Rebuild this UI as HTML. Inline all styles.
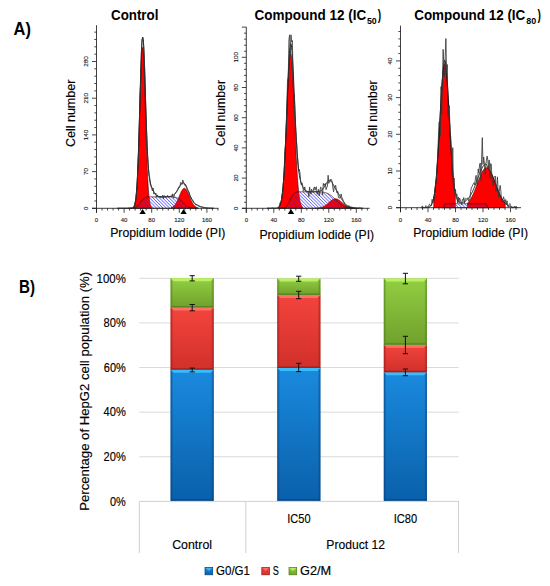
<!DOCTYPE html>
<html><head><meta charset="utf-8"><style>
html,body{margin:0;padding:0;background:#fff;}
svg{display:block;}
text{font-family:"Liberation Sans",sans-serif;}
</style></head><body>
<svg width="550" height="586" viewBox="0 0 550 586">
<defs>
<pattern id="hatch" patternUnits="userSpaceOnUse" width="2.3" height="3.4" patternTransform="rotate(-45)">
<rect x="0" y="0" width="0.8" height="3.4" fill="#6868f0"/></pattern>
<pattern id="hatchR" patternUnits="userSpaceOnUse" width="2.3" height="3.4" patternTransform="rotate(-45)">
<rect x="0" y="0" width="0.85" height="3.4" fill="#a01058"/></pattern>
</defs>
<defs><linearGradient id="vb" x1="0" y1="0" x2="0" y2="1"><stop offset="0" stop-color="#1a8ade"/><stop offset="1" stop-color="#0a60aa"/></linearGradient><linearGradient id="hb" x1="0" y1="0" x2="1" y2="0"><stop offset="0" stop-color="#053f78" stop-opacity="0.75"/><stop offset="0.06" stop-color="#053f78" stop-opacity="0"/><stop offset="0.94" stop-color="#053f78" stop-opacity="0"/><stop offset="1" stop-color="#053f78" stop-opacity="0.75"/></linearGradient><linearGradient id="vr" x1="0" y1="0" x2="0" y2="1"><stop offset="0" stop-color="#f2443c"/><stop offset="1" stop-color="#d2302b"/></linearGradient><linearGradient id="hr" x1="0" y1="0" x2="1" y2="0"><stop offset="0" stop-color="#8e1a17" stop-opacity="0.75"/><stop offset="0.06" stop-color="#8e1a17" stop-opacity="0"/><stop offset="0.94" stop-color="#8e1a17" stop-opacity="0"/><stop offset="1" stop-color="#8e1a17" stop-opacity="0.75"/></linearGradient><linearGradient id="vg" x1="0" y1="0" x2="0" y2="1"><stop offset="0" stop-color="#92cf42"/><stop offset="1" stop-color="#70a02c"/></linearGradient><linearGradient id="hg" x1="0" y1="0" x2="1" y2="0"><stop offset="0" stop-color="#4f7a1a" stop-opacity="0.75"/><stop offset="0.06" stop-color="#4f7a1a" stop-opacity="0"/><stop offset="0.94" stop-color="#4f7a1a" stop-opacity="0"/><stop offset="1" stop-color="#4f7a1a" stop-opacity="0.75"/></linearGradient></defs>
<rect width="550" height="586" fill="#fff"/>
<path d="M133.64,208.30 L133.64,207.34 L133.89,207.02 L134.14,206.62 L134.39,206.11 L134.64,205.47 L134.89,204.67 L135.14,203.67 L135.39,202.45 L135.64,200.97 L135.89,199.18 L136.14,197.05 L136.39,194.54 L136.64,191.59 L136.89,188.17 L137.14,184.25 L137.39,179.79 L137.64,174.77 L137.89,169.18 L138.14,163.02 L138.39,156.31 L138.64,149.08 L138.89,141.37 L139.14,133.27 L139.39,124.85 L139.64,116.22 L139.89,107.51 L140.14,98.85 L140.39,90.39 L140.64,82.28 L140.89,74.69 L141.14,67.76 L141.39,61.65 L141.64,56.49 L141.89,52.39 L142.14,49.46 L142.39,47.75 L142.64,47.32 L142.89,48.16 L143.14,50.27 L143.39,53.58 L143.64,58.03 L143.89,63.51 L144.14,69.90 L144.39,77.06 L144.64,84.83 L144.89,93.07 L145.14,101.61 L145.39,110.30 L145.64,119.00 L145.89,127.57 L146.14,135.90 L146.39,143.89 L146.64,151.45 L146.89,158.52 L147.14,165.05 L147.39,171.03 L147.64,176.44 L147.89,181.28 L148.14,185.56 L148.39,189.32 L148.64,192.58 L148.89,195.39 L149.14,197.78 L149.39,199.79 L149.64,201.48 L149.89,202.87 L150.14,204.01 L150.39,204.94 L150.64,205.69 L150.89,206.29 L151.14,206.76 L151.39,207.13 L151.39,208.30 Z" fill="#ff0000" stroke="#400" stroke-width="0.6"/>
<path d="M171.30,208.30 L171.30,207.62 L171.55,207.53 L171.80,207.42 L172.05,207.31 L172.30,207.18 L172.55,207.04 L172.80,206.88 L173.05,206.71 L173.30,206.52 L173.55,206.32 L173.80,206.09 L174.05,205.85 L174.30,205.59 L174.55,205.31 L174.80,205.01 L175.05,204.69 L175.30,204.34 L175.55,203.97 L175.80,203.59 L176.05,203.17 L176.30,202.74 L176.55,202.28 L176.80,201.81 L177.05,201.31 L177.30,200.79 L177.55,200.26 L177.80,199.71 L178.05,199.14 L178.30,198.56 L178.55,197.98 L178.80,197.38 L179.05,196.78 L179.30,196.17 L179.55,195.56 L179.80,194.96 L180.05,194.36 L180.30,193.78 L180.55,193.20 L180.80,192.65 L181.05,192.11 L181.30,191.59 L181.55,191.11 L181.80,190.65 L182.05,190.23 L182.30,189.84 L182.55,189.49 L182.80,189.18 L183.05,188.92 L183.30,188.70 L183.55,188.52 L183.80,188.40 L184.05,188.32 L184.30,188.30 L184.55,188.32 L184.80,188.40 L185.05,188.52 L185.30,188.70 L185.55,188.92 L185.80,189.18 L186.05,189.49 L186.30,189.84 L186.55,190.23 L186.80,190.65 L187.05,191.11 L187.30,191.59 L187.55,192.11 L187.80,192.65 L188.05,193.20 L188.30,193.78 L188.55,194.36 L188.80,194.96 L189.05,195.56 L189.30,196.17 L189.55,196.78 L189.80,197.38 L190.05,197.98 L190.30,198.56 L190.55,199.14 L190.80,199.71 L191.05,200.26 L191.30,200.79 L191.55,201.31 L191.80,201.81 L192.05,202.28 L192.30,202.74 L192.55,203.17 L192.80,203.59 L193.05,203.97 L193.30,204.34 L193.55,204.69 L193.80,205.01 L194.05,205.31 L194.30,205.59 L194.55,205.85 L194.80,206.09 L195.05,206.32 L195.30,206.52 L195.55,206.71 L195.80,206.88 L196.05,207.04 L196.30,207.18 L196.55,207.31 L196.80,207.42 L197.05,207.53 L197.30,207.62 L197.30,208.30 Z" fill="#ff0000" stroke="#400" stroke-width="0.6"/>
<clipPath id="clipp1"><path d="M133.64,208.30 L133.64,207.34 L133.89,207.02 L134.14,206.62 L134.39,206.11 L134.64,205.47 L134.89,204.67 L135.14,203.67 L135.39,202.45 L135.64,200.97 L135.89,199.18 L136.14,197.05 L136.39,194.54 L136.64,191.59 L136.89,188.17 L137.14,184.25 L137.39,179.79 L137.64,174.77 L137.89,169.18 L138.14,163.02 L138.39,156.31 L138.64,149.08 L138.89,141.37 L139.14,133.27 L139.39,124.85 L139.64,116.22 L139.89,107.51 L140.14,98.85 L140.39,90.39 L140.64,82.28 L140.89,74.69 L141.14,67.76 L141.39,61.65 L141.64,56.49 L141.89,52.39 L142.14,49.46 L142.39,47.75 L142.64,47.32 L142.89,48.16 L143.14,50.27 L143.39,53.58 L143.64,58.03 L143.89,63.51 L144.14,69.90 L144.39,77.06 L144.64,84.83 L144.89,93.07 L145.14,101.61 L145.39,110.30 L145.64,119.00 L145.89,127.57 L146.14,135.90 L146.39,143.89 L146.64,151.45 L146.89,158.52 L147.14,165.05 L147.39,171.03 L147.64,176.44 L147.89,181.28 L148.14,185.56 L148.39,189.32 L148.64,192.58 L148.89,195.39 L149.14,197.78 L149.39,199.79 L149.64,201.48 L149.89,202.87 L150.14,204.01 L150.39,204.94 L150.64,205.69 L150.89,206.29 L151.14,206.76 L151.39,207.13 L151.39,208.30 Z M171.30,208.30 L171.30,207.62 L171.55,207.53 L171.80,207.42 L172.05,207.31 L172.30,207.18 L172.55,207.04 L172.80,206.88 L173.05,206.71 L173.30,206.52 L173.55,206.32 L173.80,206.09 L174.05,205.85 L174.30,205.59 L174.55,205.31 L174.80,205.01 L175.05,204.69 L175.30,204.34 L175.55,203.97 L175.80,203.59 L176.05,203.17 L176.30,202.74 L176.55,202.28 L176.80,201.81 L177.05,201.31 L177.30,200.79 L177.55,200.26 L177.80,199.71 L178.05,199.14 L178.30,198.56 L178.55,197.98 L178.80,197.38 L179.05,196.78 L179.30,196.17 L179.55,195.56 L179.80,194.96 L180.05,194.36 L180.30,193.78 L180.55,193.20 L180.80,192.65 L181.05,192.11 L181.30,191.59 L181.55,191.11 L181.80,190.65 L182.05,190.23 L182.30,189.84 L182.55,189.49 L182.80,189.18 L183.05,188.92 L183.30,188.70 L183.55,188.52 L183.80,188.40 L184.05,188.32 L184.30,188.30 L184.55,188.32 L184.80,188.40 L185.05,188.52 L185.30,188.70 L185.55,188.92 L185.80,189.18 L186.05,189.49 L186.30,189.84 L186.55,190.23 L186.80,190.65 L187.05,191.11 L187.30,191.59 L187.55,192.11 L187.80,192.65 L188.05,193.20 L188.30,193.78 L188.55,194.36 L188.80,194.96 L189.05,195.56 L189.30,196.17 L189.55,196.78 L189.80,197.38 L190.05,197.98 L190.30,198.56 L190.55,199.14 L190.80,199.71 L191.05,200.26 L191.30,200.79 L191.55,201.31 L191.80,201.81 L192.05,202.28 L192.30,202.74 L192.55,203.17 L192.80,203.59 L193.05,203.97 L193.30,204.34 L193.55,204.69 L193.80,205.01 L194.05,205.31 L194.30,205.59 L194.55,205.85 L194.80,206.09 L195.05,206.32 L195.30,206.52 L195.55,206.71 L195.80,206.88 L196.05,207.04 L196.30,207.18 L196.55,207.31 L196.80,207.42 L197.05,207.53 L197.30,207.62 L197.30,208.30 Z"/></clipPath>
<path d="M128.05,208.30 L128.05,208.30 L128.30,208.30 L128.55,208.30 L128.80,208.29 L129.05,208.29 L129.30,208.29 L129.55,208.29 L129.80,208.28 L130.05,208.28 L130.30,208.28 L130.55,208.27 L130.80,208.26 L131.05,208.25 L131.30,208.24 L131.55,208.23 L131.80,208.21 L132.05,208.19 L132.30,208.17 L132.55,208.15 L132.80,208.12 L133.05,208.08 L133.30,208.04 L133.55,207.99 L133.80,207.94 L134.05,207.87 L134.30,207.80 L134.55,207.72 L134.80,207.63 L135.05,207.53 L135.30,207.42 L135.55,207.30 L135.80,207.16 L136.05,207.01 L136.30,206.84 L136.55,206.67 L136.80,206.48 L137.05,206.27 L137.30,206.05 L137.55,205.82 L137.80,205.57 L138.05,205.31 L138.30,205.04 L138.55,204.75 L138.80,204.46 L139.05,204.15 L139.30,203.84 L139.55,203.53 L139.80,203.20 L140.05,202.88 L140.30,202.55 L140.55,202.22 L140.80,201.90 L141.05,201.57 L141.30,201.26 L141.55,200.95 L141.80,200.64 L142.05,200.35 L142.30,200.06 L142.55,199.79 L142.80,199.53 L143.05,199.28 L143.30,199.05 L143.55,198.83 L143.80,198.62 L144.05,198.43 L144.30,198.26 L144.55,198.09 L144.80,197.94 L145.05,197.80 L145.30,197.68 L145.55,197.57 L145.80,197.47 L146.05,197.38 L146.30,197.30 L146.55,197.23 L146.80,197.16 L147.05,197.11 L147.30,197.06 L147.55,197.02 L147.80,196.98 L148.05,196.95 L148.30,196.93 L148.55,196.91 L148.80,196.89 L149.05,196.87 L149.30,196.86 L149.55,196.85 L149.80,196.84 L150.05,196.83 L150.30,196.82 L150.55,196.82 L150.80,196.82 L151.05,196.81 L151.30,196.81 L151.55,196.81 L151.80,196.81 L152.05,196.80 L152.30,196.80 L152.55,196.80 L152.80,196.80 L153.05,196.80 L153.30,196.80 L153.55,196.80 L153.80,196.80 L154.05,196.80 L154.30,196.80 L154.55,196.80 L154.80,196.80 L155.05,196.80 L155.30,196.80 L155.55,196.80 L155.80,196.80 L156.05,196.80 L156.30,196.80 L156.55,196.80 L156.80,196.80 L157.05,196.80 L157.30,196.80 L157.55,196.80 L157.80,196.80 L158.05,196.80 L158.30,196.80 L158.55,196.80 L158.80,196.80 L159.05,196.80 L159.30,196.80 L159.55,196.80 L159.80,196.80 L160.05,196.80 L160.30,196.80 L160.55,196.80 L160.80,196.80 L161.05,196.80 L161.30,196.80 L161.55,196.80 L161.80,196.80 L162.05,196.80 L162.30,196.80 L162.55,196.80 L162.80,196.80 L163.05,196.80 L163.30,196.80 L163.55,196.80 L163.80,196.80 L164.05,196.80 L164.30,196.80 L164.55,196.80 L164.80,196.80 L165.05,196.80 L165.30,196.80 L165.55,196.80 L165.80,196.80 L166.05,196.80 L166.30,196.80 L166.55,196.80 L166.80,196.80 L167.05,196.80 L167.30,196.80 L167.55,196.80 L167.80,196.80 L168.05,196.81 L168.30,196.81 L168.55,196.81 L168.80,196.81 L169.05,196.81 L169.30,196.81 L169.55,196.82 L169.80,196.82 L170.05,196.82 L170.30,196.83 L170.55,196.83 L170.80,196.84 L171.05,196.85 L171.30,196.85 L171.55,196.86 L171.80,196.87 L172.05,196.89 L172.30,196.90 L172.55,196.92 L172.80,196.93 L173.05,196.96 L173.30,196.98 L173.55,197.01 L173.80,197.04 L174.05,197.07 L174.30,197.11 L174.55,197.15 L174.80,197.19 L175.05,197.24 L175.30,197.30 L175.55,197.36 L175.80,197.43 L176.05,197.50 L176.30,197.58 L176.55,197.67 L176.80,197.77 L177.05,197.87 L177.30,197.98 L177.55,198.10 L177.80,198.23 L178.05,198.36 L178.30,198.50 L178.55,198.66 L178.80,198.82 L179.05,198.99 L179.30,199.16 L179.55,199.35 L179.80,199.54 L180.05,199.74 L180.30,199.95 L180.55,200.17 L180.80,200.39 L181.05,200.62 L181.30,200.86 L181.55,201.10 L181.80,201.34 L182.05,201.59 L182.30,201.84 L182.55,202.09 L182.80,202.35 L183.05,202.60 L183.30,202.86 L183.55,203.11 L183.80,203.36 L184.05,203.61 L184.30,203.86 L184.55,204.10 L184.80,204.34 L185.05,204.57 L185.30,204.80 L185.55,205.02 L185.80,205.23 L186.05,205.44 L186.30,205.64 L186.55,205.83 L186.80,206.01 L187.05,206.18 L187.30,206.35 L187.55,206.51 L187.80,206.65 L188.05,206.79 L188.30,206.93 L188.55,207.05 L188.80,207.16 L189.05,207.27 L189.30,207.37 L189.55,207.46 L189.80,207.55 L190.05,207.63 L190.30,207.70 L190.55,207.76 L190.80,207.82 L191.05,207.88 L191.30,207.93 L191.55,207.97 L191.80,208.01 L192.05,208.05 L192.30,208.08 L192.55,208.11 L192.80,208.13 L193.05,208.15 L193.30,208.17 L193.55,208.19 L193.80,208.21 L194.05,208.22 L194.30,208.23 L194.55,208.24 L194.80,208.25 L195.05,208.26 L195.30,208.26 L195.55,208.27 L195.80,208.27 L196.05,208.28 L196.30,208.28 L196.55,208.29 L196.80,208.29 L197.05,208.29 L197.30,208.29 L197.55,208.29 L197.80,208.29 L198.05,208.30 L198.30,208.30 L198.55,208.30 L198.55,208.30 Z" fill="url(#hatch)"/>
<path d="M128.05,208.30 L128.05,208.30 L128.30,208.30 L128.55,208.30 L128.80,208.29 L129.05,208.29 L129.30,208.29 L129.55,208.29 L129.80,208.28 L130.05,208.28 L130.30,208.28 L130.55,208.27 L130.80,208.26 L131.05,208.25 L131.30,208.24 L131.55,208.23 L131.80,208.21 L132.05,208.19 L132.30,208.17 L132.55,208.15 L132.80,208.12 L133.05,208.08 L133.30,208.04 L133.55,207.99 L133.80,207.94 L134.05,207.87 L134.30,207.80 L134.55,207.72 L134.80,207.63 L135.05,207.53 L135.30,207.42 L135.55,207.30 L135.80,207.16 L136.05,207.01 L136.30,206.84 L136.55,206.67 L136.80,206.48 L137.05,206.27 L137.30,206.05 L137.55,205.82 L137.80,205.57 L138.05,205.31 L138.30,205.04 L138.55,204.75 L138.80,204.46 L139.05,204.15 L139.30,203.84 L139.55,203.53 L139.80,203.20 L140.05,202.88 L140.30,202.55 L140.55,202.22 L140.80,201.90 L141.05,201.57 L141.30,201.26 L141.55,200.95 L141.80,200.64 L142.05,200.35 L142.30,200.06 L142.55,199.79 L142.80,199.53 L143.05,199.28 L143.30,199.05 L143.55,198.83 L143.80,198.62 L144.05,198.43 L144.30,198.26 L144.55,198.09 L144.80,197.94 L145.05,197.80 L145.30,197.68 L145.55,197.57 L145.80,197.47 L146.05,197.38 L146.30,197.30 L146.55,197.23 L146.80,197.16 L147.05,197.11 L147.30,197.06 L147.55,197.02 L147.80,196.98 L148.05,196.95 L148.30,196.93 L148.55,196.91 L148.80,196.89 L149.05,196.87 L149.30,196.86 L149.55,196.85 L149.80,196.84 L150.05,196.83 L150.30,196.82 L150.55,196.82 L150.80,196.82 L151.05,196.81 L151.30,196.81 L151.55,196.81 L151.80,196.81 L152.05,196.80 L152.30,196.80 L152.55,196.80 L152.80,196.80 L153.05,196.80 L153.30,196.80 L153.55,196.80 L153.80,196.80 L154.05,196.80 L154.30,196.80 L154.55,196.80 L154.80,196.80 L155.05,196.80 L155.30,196.80 L155.55,196.80 L155.80,196.80 L156.05,196.80 L156.30,196.80 L156.55,196.80 L156.80,196.80 L157.05,196.80 L157.30,196.80 L157.55,196.80 L157.80,196.80 L158.05,196.80 L158.30,196.80 L158.55,196.80 L158.80,196.80 L159.05,196.80 L159.30,196.80 L159.55,196.80 L159.80,196.80 L160.05,196.80 L160.30,196.80 L160.55,196.80 L160.80,196.80 L161.05,196.80 L161.30,196.80 L161.55,196.80 L161.80,196.80 L162.05,196.80 L162.30,196.80 L162.55,196.80 L162.80,196.80 L163.05,196.80 L163.30,196.80 L163.55,196.80 L163.80,196.80 L164.05,196.80 L164.30,196.80 L164.55,196.80 L164.80,196.80 L165.05,196.80 L165.30,196.80 L165.55,196.80 L165.80,196.80 L166.05,196.80 L166.30,196.80 L166.55,196.80 L166.80,196.80 L167.05,196.80 L167.30,196.80 L167.55,196.80 L167.80,196.80 L168.05,196.81 L168.30,196.81 L168.55,196.81 L168.80,196.81 L169.05,196.81 L169.30,196.81 L169.55,196.82 L169.80,196.82 L170.05,196.82 L170.30,196.83 L170.55,196.83 L170.80,196.84 L171.05,196.85 L171.30,196.85 L171.55,196.86 L171.80,196.87 L172.05,196.89 L172.30,196.90 L172.55,196.92 L172.80,196.93 L173.05,196.96 L173.30,196.98 L173.55,197.01 L173.80,197.04 L174.05,197.07 L174.30,197.11 L174.55,197.15 L174.80,197.19 L175.05,197.24 L175.30,197.30 L175.55,197.36 L175.80,197.43 L176.05,197.50 L176.30,197.58 L176.55,197.67 L176.80,197.77 L177.05,197.87 L177.30,197.98 L177.55,198.10 L177.80,198.23 L178.05,198.36 L178.30,198.50 L178.55,198.66 L178.80,198.82 L179.05,198.99 L179.30,199.16 L179.55,199.35 L179.80,199.54 L180.05,199.74 L180.30,199.95 L180.55,200.17 L180.80,200.39 L181.05,200.62 L181.30,200.86 L181.55,201.10 L181.80,201.34 L182.05,201.59 L182.30,201.84 L182.55,202.09 L182.80,202.35 L183.05,202.60 L183.30,202.86 L183.55,203.11 L183.80,203.36 L184.05,203.61 L184.30,203.86 L184.55,204.10 L184.80,204.34 L185.05,204.57 L185.30,204.80 L185.55,205.02 L185.80,205.23 L186.05,205.44 L186.30,205.64 L186.55,205.83 L186.80,206.01 L187.05,206.18 L187.30,206.35 L187.55,206.51 L187.80,206.65 L188.05,206.79 L188.30,206.93 L188.55,207.05 L188.80,207.16 L189.05,207.27 L189.30,207.37 L189.55,207.46 L189.80,207.55 L190.05,207.63 L190.30,207.70 L190.55,207.76 L190.80,207.82 L191.05,207.88 L191.30,207.93 L191.55,207.97 L191.80,208.01 L192.05,208.05 L192.30,208.08 L192.55,208.11 L192.80,208.13 L193.05,208.15 L193.30,208.17 L193.55,208.19 L193.80,208.21 L194.05,208.22 L194.30,208.23 L194.55,208.24 L194.80,208.25 L195.05,208.26 L195.30,208.26 L195.55,208.27 L195.80,208.27 L196.05,208.28 L196.30,208.28 L196.55,208.29 L196.80,208.29 L197.05,208.29 L197.30,208.29 L197.55,208.29 L197.80,208.29 L198.05,208.30 L198.30,208.30 L198.55,208.30 L198.55,208.30 Z" fill="#ff0000" clip-path="url(#clipp1)"/>
<path d="M128.05,208.30 L128.05,208.30 L128.30,208.30 L128.55,208.30 L128.80,208.29 L129.05,208.29 L129.30,208.29 L129.55,208.29 L129.80,208.28 L130.05,208.28 L130.30,208.28 L130.55,208.27 L130.80,208.26 L131.05,208.25 L131.30,208.24 L131.55,208.23 L131.80,208.21 L132.05,208.19 L132.30,208.17 L132.55,208.15 L132.80,208.12 L133.05,208.08 L133.30,208.04 L133.55,207.99 L133.80,207.94 L134.05,207.87 L134.30,207.80 L134.55,207.72 L134.80,207.63 L135.05,207.53 L135.30,207.42 L135.55,207.30 L135.80,207.16 L136.05,207.01 L136.30,206.84 L136.55,206.67 L136.80,206.48 L137.05,206.27 L137.30,206.05 L137.55,205.82 L137.80,205.57 L138.05,205.31 L138.30,205.04 L138.55,204.75 L138.80,204.46 L139.05,204.15 L139.30,203.84 L139.55,203.53 L139.80,203.20 L140.05,202.88 L140.30,202.55 L140.55,202.22 L140.80,201.90 L141.05,201.57 L141.30,201.26 L141.55,200.95 L141.80,200.64 L142.05,200.35 L142.30,200.06 L142.55,199.79 L142.80,199.53 L143.05,199.28 L143.30,199.05 L143.55,198.83 L143.80,198.62 L144.05,198.43 L144.30,198.26 L144.55,198.09 L144.80,197.94 L145.05,197.80 L145.30,197.68 L145.55,197.57 L145.80,197.47 L146.05,197.38 L146.30,197.30 L146.55,197.23 L146.80,197.16 L147.05,197.11 L147.30,197.06 L147.55,197.02 L147.80,196.98 L148.05,196.95 L148.30,196.93 L148.55,196.91 L148.80,196.89 L149.05,196.87 L149.30,196.86 L149.55,196.85 L149.80,196.84 L150.05,196.83 L150.30,196.82 L150.55,196.82 L150.80,196.82 L151.05,196.81 L151.30,196.81 L151.55,196.81 L151.80,196.81 L152.05,196.80 L152.30,196.80 L152.55,196.80 L152.80,196.80 L153.05,196.80 L153.30,196.80 L153.55,196.80 L153.80,196.80 L154.05,196.80 L154.30,196.80 L154.55,196.80 L154.80,196.80 L155.05,196.80 L155.30,196.80 L155.55,196.80 L155.80,196.80 L156.05,196.80 L156.30,196.80 L156.55,196.80 L156.80,196.80 L157.05,196.80 L157.30,196.80 L157.55,196.80 L157.80,196.80 L158.05,196.80 L158.30,196.80 L158.55,196.80 L158.80,196.80 L159.05,196.80 L159.30,196.80 L159.55,196.80 L159.80,196.80 L160.05,196.80 L160.30,196.80 L160.55,196.80 L160.80,196.80 L161.05,196.80 L161.30,196.80 L161.55,196.80 L161.80,196.80 L162.05,196.80 L162.30,196.80 L162.55,196.80 L162.80,196.80 L163.05,196.80 L163.30,196.80 L163.55,196.80 L163.80,196.80 L164.05,196.80 L164.30,196.80 L164.55,196.80 L164.80,196.80 L165.05,196.80 L165.30,196.80 L165.55,196.80 L165.80,196.80 L166.05,196.80 L166.30,196.80 L166.55,196.80 L166.80,196.80 L167.05,196.80 L167.30,196.80 L167.55,196.80 L167.80,196.80 L168.05,196.81 L168.30,196.81 L168.55,196.81 L168.80,196.81 L169.05,196.81 L169.30,196.81 L169.55,196.82 L169.80,196.82 L170.05,196.82 L170.30,196.83 L170.55,196.83 L170.80,196.84 L171.05,196.85 L171.30,196.85 L171.55,196.86 L171.80,196.87 L172.05,196.89 L172.30,196.90 L172.55,196.92 L172.80,196.93 L173.05,196.96 L173.30,196.98 L173.55,197.01 L173.80,197.04 L174.05,197.07 L174.30,197.11 L174.55,197.15 L174.80,197.19 L175.05,197.24 L175.30,197.30 L175.55,197.36 L175.80,197.43 L176.05,197.50 L176.30,197.58 L176.55,197.67 L176.80,197.77 L177.05,197.87 L177.30,197.98 L177.55,198.10 L177.80,198.23 L178.05,198.36 L178.30,198.50 L178.55,198.66 L178.80,198.82 L179.05,198.99 L179.30,199.16 L179.55,199.35 L179.80,199.54 L180.05,199.74 L180.30,199.95 L180.55,200.17 L180.80,200.39 L181.05,200.62 L181.30,200.86 L181.55,201.10 L181.80,201.34 L182.05,201.59 L182.30,201.84 L182.55,202.09 L182.80,202.35 L183.05,202.60 L183.30,202.86 L183.55,203.11 L183.80,203.36 L184.05,203.61 L184.30,203.86 L184.55,204.10 L184.80,204.34 L185.05,204.57 L185.30,204.80 L185.55,205.02 L185.80,205.23 L186.05,205.44 L186.30,205.64 L186.55,205.83 L186.80,206.01 L187.05,206.18 L187.30,206.35 L187.55,206.51 L187.80,206.65 L188.05,206.79 L188.30,206.93 L188.55,207.05 L188.80,207.16 L189.05,207.27 L189.30,207.37 L189.55,207.46 L189.80,207.55 L190.05,207.63 L190.30,207.70 L190.55,207.76 L190.80,207.82 L191.05,207.88 L191.30,207.93 L191.55,207.97 L191.80,208.01 L192.05,208.05 L192.30,208.08 L192.55,208.11 L192.80,208.13 L193.05,208.15 L193.30,208.17 L193.55,208.19 L193.80,208.21 L194.05,208.22 L194.30,208.23 L194.55,208.24 L194.80,208.25 L195.05,208.26 L195.30,208.26 L195.55,208.27 L195.80,208.27 L196.05,208.28 L196.30,208.28 L196.55,208.29 L196.80,208.29 L197.05,208.29 L197.30,208.29 L197.55,208.29 L197.80,208.29 L198.05,208.30 L198.30,208.30 L198.55,208.30 L198.55,208.30 Z" fill="url(#hatchR)" clip-path="url(#clipp1)"/>
<path d="M128.05,208.30 L128.05,208.30 L128.30,208.30 L128.55,208.30 L128.80,208.29 L129.05,208.29 L129.30,208.29 L129.55,208.29 L129.80,208.28 L130.05,208.28 L130.30,208.28 L130.55,208.27 L130.80,208.26 L131.05,208.25 L131.30,208.24 L131.55,208.23 L131.80,208.21 L132.05,208.19 L132.30,208.17 L132.55,208.15 L132.80,208.12 L133.05,208.08 L133.30,208.04 L133.55,207.99 L133.80,207.94 L134.05,207.87 L134.30,207.80 L134.55,207.72 L134.80,207.63 L135.05,207.53 L135.30,207.42 L135.55,207.30 L135.80,207.16 L136.05,207.01 L136.30,206.84 L136.55,206.67 L136.80,206.48 L137.05,206.27 L137.30,206.05 L137.55,205.82 L137.80,205.57 L138.05,205.31 L138.30,205.04 L138.55,204.75 L138.80,204.46 L139.05,204.15 L139.30,203.84 L139.55,203.53 L139.80,203.20 L140.05,202.88 L140.30,202.55 L140.55,202.22 L140.80,201.90 L141.05,201.57 L141.30,201.26 L141.55,200.95 L141.80,200.64 L142.05,200.35 L142.30,200.06 L142.55,199.79 L142.80,199.53 L143.05,199.28 L143.30,199.05 L143.55,198.83 L143.80,198.62 L144.05,198.43 L144.30,198.26 L144.55,198.09 L144.80,197.94 L145.05,197.80 L145.30,197.68 L145.55,197.57 L145.80,197.47 L146.05,197.38 L146.30,197.30 L146.55,197.23 L146.80,197.16 L147.05,197.11 L147.30,197.06 L147.55,197.02 L147.80,196.98 L148.05,196.95 L148.30,196.93 L148.55,196.91 L148.80,196.89 L149.05,196.87 L149.30,196.86 L149.55,196.85 L149.80,196.84 L150.05,196.83 L150.30,196.82 L150.55,196.82 L150.80,196.82 L151.05,196.81 L151.30,196.81 L151.55,196.81 L151.80,196.81 L152.05,196.80 L152.30,196.80 L152.55,196.80 L152.80,196.80 L153.05,196.80 L153.30,196.80 L153.55,196.80 L153.80,196.80 L154.05,196.80 L154.30,196.80 L154.55,196.80 L154.80,196.80 L155.05,196.80 L155.30,196.80 L155.55,196.80 L155.80,196.80 L156.05,196.80 L156.30,196.80 L156.55,196.80 L156.80,196.80 L157.05,196.80 L157.30,196.80 L157.55,196.80 L157.80,196.80 L158.05,196.80 L158.30,196.80 L158.55,196.80 L158.80,196.80 L159.05,196.80 L159.30,196.80 L159.55,196.80 L159.80,196.80 L160.05,196.80 L160.30,196.80 L160.55,196.80 L160.80,196.80 L161.05,196.80 L161.30,196.80 L161.55,196.80 L161.80,196.80 L162.05,196.80 L162.30,196.80 L162.55,196.80 L162.80,196.80 L163.05,196.80 L163.30,196.80 L163.55,196.80 L163.80,196.80 L164.05,196.80 L164.30,196.80 L164.55,196.80 L164.80,196.80 L165.05,196.80 L165.30,196.80 L165.55,196.80 L165.80,196.80 L166.05,196.80 L166.30,196.80 L166.55,196.80 L166.80,196.80 L167.05,196.80 L167.30,196.80 L167.55,196.80 L167.80,196.80 L168.05,196.81 L168.30,196.81 L168.55,196.81 L168.80,196.81 L169.05,196.81 L169.30,196.81 L169.55,196.82 L169.80,196.82 L170.05,196.82 L170.30,196.83 L170.55,196.83 L170.80,196.84 L171.05,196.85 L171.30,196.85 L171.55,196.86 L171.80,196.87 L172.05,196.89 L172.30,196.90 L172.55,196.92 L172.80,196.93 L173.05,196.96 L173.30,196.98 L173.55,197.01 L173.80,197.04 L174.05,197.07 L174.30,197.11 L174.55,197.15 L174.80,197.19 L175.05,197.24 L175.30,197.30 L175.55,197.36 L175.80,197.43 L176.05,197.50 L176.30,197.58 L176.55,197.67 L176.80,197.77 L177.05,197.87 L177.30,197.98 L177.55,198.10 L177.80,198.23 L178.05,198.36 L178.30,198.50 L178.55,198.66 L178.80,198.82 L179.05,198.99 L179.30,199.16 L179.55,199.35 L179.80,199.54 L180.05,199.74 L180.30,199.95 L180.55,200.17 L180.80,200.39 L181.05,200.62 L181.30,200.86 L181.55,201.10 L181.80,201.34 L182.05,201.59 L182.30,201.84 L182.55,202.09 L182.80,202.35 L183.05,202.60 L183.30,202.86 L183.55,203.11 L183.80,203.36 L184.05,203.61 L184.30,203.86 L184.55,204.10 L184.80,204.34 L185.05,204.57 L185.30,204.80 L185.55,205.02 L185.80,205.23 L186.05,205.44 L186.30,205.64 L186.55,205.83 L186.80,206.01 L187.05,206.18 L187.30,206.35 L187.55,206.51 L187.80,206.65 L188.05,206.79 L188.30,206.93 L188.55,207.05 L188.80,207.16 L189.05,207.27 L189.30,207.37 L189.55,207.46 L189.80,207.55 L190.05,207.63 L190.30,207.70 L190.55,207.76 L190.80,207.82 L191.05,207.88 L191.30,207.93 L191.55,207.97 L191.80,208.01 L192.05,208.05 L192.30,208.08 L192.55,208.11 L192.80,208.13 L193.05,208.15 L193.30,208.17 L193.55,208.19 L193.80,208.21 L194.05,208.22 L194.30,208.23 L194.55,208.24 L194.80,208.25 L195.05,208.26 L195.30,208.26 L195.55,208.27 L195.80,208.27 L196.05,208.28 L196.30,208.28 L196.55,208.29 L196.80,208.29 L197.05,208.29 L197.30,208.29 L197.55,208.29 L197.80,208.29 L198.05,208.30 L198.30,208.30 L198.55,208.30 L198.55,208.30 Z" fill="none" stroke="#3a0a0a" stroke-width="0.7"/>
<path d="M117.20,208.30 L117.45,208.30 L117.70,208.30 L117.95,208.30 L118.20,208.30 L118.45,208.30 L118.70,208.30 L118.95,208.30 L119.20,208.30 L119.45,208.30 L119.70,208.30 L119.95,208.30 L120.20,208.30 L120.45,208.30 L120.70,208.30 L120.95,208.30 L121.20,208.30 L121.45,208.30 L121.70,208.30 L121.95,208.30 L122.20,208.30 L122.45,208.30 L122.70,208.30 L122.95,208.30 L123.20,208.30 L123.45,208.30 L123.70,208.30 L123.95,208.30 L124.20,208.30 L124.45,208.30 L124.70,208.30 L124.95,208.30 L125.20,208.30 L125.45,208.30 L125.70,208.30 L125.95,208.30 L126.20,208.30 L126.45,208.30 L126.70,208.30 L126.95,208.30 L127.20,208.30 L127.45,208.30 L127.70,208.30 L127.95,208.30 L128.20,208.30 L128.45,208.30 L128.70,208.29 L128.95,208.29 L129.20,208.29 L129.45,208.29 L129.70,208.28 L129.95,208.28 L130.20,208.27 L130.45,208.26 L130.70,208.25 L130.95,208.23 L131.20,208.21 L131.45,208.18 L131.70,208.14 L131.95,208.09 L132.20,208.02 L132.45,207.93 L132.70,207.82 L132.95,207.67 L133.20,207.48 L133.45,207.24 L133.70,206.93 L133.95,206.54 L134.20,206.04 L134.45,205.43 L134.70,204.66 L134.95,203.72 L135.20,202.56 L135.45,201.16 L135.70,199.48 L135.95,197.47 L136.20,195.09 L136.45,192.30 L136.70,189.05 L136.95,185.31 L137.20,181.05 L137.45,176.22 L137.70,170.81 L137.95,164.82 L138.20,158.25 L138.45,151.11 L138.70,143.45 L138.95,135.32 L139.20,126.80 L139.45,117.97 L139.70,108.95 L139.95,99.86 L140.20,90.86 L140.45,82.07 L140.70,73.67 L140.95,65.81 L141.20,58.64 L141.45,52.31 L141.70,46.95 L141.95,42.67 L142.20,39.56 L142.45,37.68 L142.70,37.07 L142.95,37.73 L143.20,39.62 L143.45,42.70 L143.70,46.88 L143.95,52.05 L144.20,58.08 L144.45,64.84 L144.70,72.18 L144.95,79.93 L145.20,87.94 L145.45,96.07 L145.70,104.18 L145.95,112.13 L146.20,119.83 L146.45,127.17 L146.70,134.09 L146.95,140.53 L147.20,146.46 L147.45,151.85 L147.70,156.71 L147.95,161.05 L148.20,164.88 L148.45,168.25 L148.70,171.17 L148.95,173.71 L149.20,175.90 L149.45,177.78 L149.70,179.39 L149.95,180.79 L150.20,182.00 L150.45,183.06 L150.70,183.99 L150.95,184.83 L151.20,185.59 L151.45,186.30 L151.70,186.96 L151.95,187.59 L152.20,188.18 L152.45,188.76 L152.70,189.32 L152.95,189.86 L153.20,190.39 L153.45,190.89 L153.70,191.38 L153.95,191.86 L154.20,192.31 L154.45,192.73 L154.70,193.14 L154.95,193.52 L155.20,193.87 L155.45,194.20 L155.70,194.51 L155.95,194.78 L156.20,195.04 L156.45,195.27 L156.70,195.47 L156.95,195.66 L157.20,195.82 L157.45,195.97 L157.70,196.09 L157.95,196.20 L158.20,196.30 L158.45,196.38 L158.70,196.45 L158.95,196.51 L159.20,196.56 L159.45,196.61 L159.70,196.64 L159.95,196.67 L160.20,196.70 L160.45,196.72 L160.70,196.73 L160.95,196.75 L161.20,196.76 L161.45,196.77 L161.70,196.77 L161.95,196.78 L162.20,196.78 L162.45,196.79 L162.70,196.79 L162.95,196.79 L163.20,196.79 L163.45,196.79 L163.70,196.79 L163.95,196.79 L164.20,196.79 L164.45,196.79 L164.70,196.79 L164.95,196.79 L165.20,196.79 L165.45,196.78 L165.70,196.78 L165.95,196.78 L166.20,196.77 L166.45,196.77 L166.70,196.76 L166.95,196.75 L167.20,196.74 L167.45,196.73 L167.70,196.72 L167.95,196.71 L168.20,196.69 L168.45,196.68 L168.70,196.65 L168.95,196.63 L169.20,196.60 L169.45,196.57 L169.70,196.54 L169.95,196.50 L170.20,196.45 L170.45,196.40 L170.70,196.34 L170.95,196.28 L171.20,196.20 L171.45,196.12 L171.70,196.03 L171.95,195.93 L172.20,195.82 L172.45,195.70 L172.70,195.57 L172.95,195.42 L173.20,195.26 L173.45,195.09 L173.70,194.90 L173.95,194.70 L174.20,194.48 L174.45,194.25 L174.70,194.00 L174.95,193.73 L175.20,193.45 L175.45,193.15 L175.70,192.83 L175.95,192.50 L176.20,192.15 L176.45,191.78 L176.70,191.40 L176.95,191.01 L177.20,190.61 L177.45,190.19 L177.70,189.77 L177.95,189.33 L178.20,188.89 L178.45,188.45 L178.70,188.01 L178.95,187.56 L179.20,187.12 L179.45,186.69 L179.70,186.27 L179.95,185.86 L180.20,185.46 L180.45,185.08 L180.70,184.72 L180.95,184.39 L181.20,184.08 L181.45,183.80 L181.70,183.56 L181.95,183.35 L182.20,183.17 L182.45,183.03 L182.70,182.94 L182.95,182.88 L183.20,182.87 L183.45,182.90 L183.70,182.98 L183.95,183.10 L184.20,183.27 L184.45,183.48 L184.70,183.73 L184.95,184.03 L185.20,184.37 L185.45,184.75 L185.70,185.16 L185.95,185.61 L186.20,186.10 L186.45,186.61 L186.70,187.15 L186.95,187.72 L187.20,188.31 L187.45,188.91 L187.70,189.53 L187.95,190.16 L188.20,190.81 L188.45,191.45 L188.70,192.10 L188.95,192.75 L189.20,193.39 L189.45,194.03 L189.70,194.66 L189.95,195.28 L190.20,195.88 L190.45,196.48 L190.70,197.05 L190.95,197.61 L191.20,198.14 L191.45,198.66 L191.70,199.16 L191.95,199.63 L192.20,200.08 L192.45,200.51 L192.70,200.92 L192.95,201.31 L193.20,201.67 L193.45,202.02 L193.70,202.34 L193.95,202.65 L194.20,202.93 L194.45,203.20 L194.70,203.45 L194.95,203.69 L195.20,203.90 L195.45,204.11 L195.70,204.30 L195.95,204.48 L196.20,204.65 L196.45,204.81 L196.70,204.96 L196.95,205.10 L197.20,205.24 L197.45,205.36 L197.70,205.48 L197.95,205.60 L198.20,205.71 L198.45,205.81 L198.70,205.91 L198.95,206.01 L199.20,206.11 L199.45,206.20 L199.70,206.29 L199.95,206.37 L200.20,206.45 L200.45,206.54 L200.70,206.62 L200.95,206.69 L201.20,206.77 L201.45,206.84 L201.70,206.91 L201.95,206.98 L202.20,207.05 L202.45,207.12 L202.70,207.18 L202.95,207.24 L203.20,207.30 L203.45,207.36 L203.70,207.42 L203.95,207.47 L204.20,207.52 L204.45,207.57 L204.70,207.62 L204.95,207.66 L205.20,207.71 L205.45,207.75 L205.70,207.79 L205.95,207.83 L206.20,207.86 L206.45,207.89 L206.70,207.93 L206.95,207.96 L207.20,207.98 L207.45,208.01 L207.70,208.03 L207.95,208.06 L208.20,208.08 L208.45,208.10 L208.70,208.12 L208.95,208.13 L209.20,208.15 L209.45,208.16 L209.70,208.18 L209.95,208.19 L210.20,208.20 L210.45,208.21 L210.70,208.22 L210.95,208.23 L211.20,208.23 L211.45,208.24 L211.70,208.25 L211.95,208.25 L212.20,208.26 L212.45,208.26 L212.70,208.27 L212.95,208.27 L213.20,208.27 L213.45,208.28 L213.70,208.28" fill="none" stroke="#000" stroke-width="0.9"/>
<path d="M117.20,208.29 L117.89,208.17 L118.58,208.30 L119.27,208.20 L119.96,208.30 L120.65,208.30 L121.34,208.11 L122.03,208.28 L122.72,208.30 L123.41,208.23 L124.10,208.19 L124.79,208.30 L125.48,208.24 L126.17,208.30 L126.86,208.30 L127.55,208.30 L128.24,208.30 L128.93,208.30 L129.62,208.30 L130.31,208.29 L131.00,208.24 L131.69,208.17 L132.38,207.95 L133.07,207.87 L133.76,206.87 L134.45,205.32 L135.14,202.42 L135.83,199.15 L136.52,191.86 L137.21,183.54 L137.90,166.90 L138.59,151.25 L139.28,127.30 L139.97,96.22 L140.66,81.42 L141.35,52.23 L142.04,39.41 L142.73,38.12 L143.42,40.77 L144.11,54.17 L144.80,72.18 L145.49,97.99 L146.18,120.64 L146.87,139.80 L147.56,155.90 L148.25,165.67 L148.94,174.79 L149.63,177.50 L150.32,184.93 L151.01,186.36 L151.70,188.08 L152.39,190.98 L153.08,188.08 L153.77,194.02 L154.46,193.03 L155.15,194.31 L155.84,193.12 L156.53,197.15 L157.22,194.87 L157.91,196.83 L158.60,196.56 L159.29,197.16 L159.98,196.12 L160.67,197.71 L161.36,196.83 L162.05,196.48 L162.74,195.21 L163.43,198.86 L164.12,195.48 L164.81,195.97 L165.50,197.20 L166.19,196.51 L166.88,197.16 L167.57,195.31 L168.26,196.51 L168.95,196.82 L169.64,196.74 L170.33,196.60 L171.02,196.41 L171.71,196.81 L172.40,193.88 L173.09,197.08 L173.78,198.19 L174.47,194.35 L175.16,193.64 L175.85,192.26 L176.54,191.86 L177.23,190.72 L177.92,189.02 L178.61,187.07 L179.30,187.48 L179.99,186.24 L180.68,182.37 L181.37,183.23 L182.06,184.51 L182.75,179.96 L183.44,181.91 L184.13,183.96 L184.82,185.34 L185.51,184.48 L186.20,187.09 L186.89,188.80 L187.58,190.67 L188.27,191.52 L188.96,191.67 L189.65,194.94 L190.34,197.49 L191.03,197.23 L191.72,199.14 L192.41,199.85 L193.10,200.74 L193.79,202.56 L194.48,203.31 L195.17,203.90 L195.86,204.99 L196.55,204.56 L197.24,204.65 L197.93,205.52 L198.62,205.98 L199.31,206.24 L200.00,206.66 L200.69,206.88 L201.38,206.94 L202.07,207.26 L202.76,207.31 L203.45,207.75 L204.14,207.43 L204.83,207.63 L205.52,207.97 L206.21,208.25 L206.90,207.95 L207.59,207.88 L208.28,208.17 L208.97,208.18 L209.66,208.23 L210.35,208.14 L211.04,208.30 L211.73,208.15 L212.42,208.29 L213.11,208.18 L213.80,208.28" fill="none" stroke="#383838" stroke-width="0.85"/>
<path d="M96.5,25.2 L96.5,212.8 M92,208.3 L218.5,208.3" stroke="#2a2a2a" stroke-width="0.9" fill="none"/>
<path d="M92.0,208.30 L96.5,208.30 M94.3,200.96 L96.5,200.96 M94.3,193.62 L96.5,193.62 M94.3,186.28 L96.5,186.28 M94.3,178.94 L96.5,178.94 M92.0,171.60 L96.5,171.60 M94.3,164.26 L96.5,164.26 M94.3,156.92 L96.5,156.92 M94.3,149.58 L96.5,149.58 M94.3,142.24 L96.5,142.24 M92.0,134.90 L96.5,134.90 M94.3,127.56 L96.5,127.56 M94.3,120.22 L96.5,120.22 M94.3,112.88 L96.5,112.88 M94.3,105.54 L96.5,105.54 M92.0,98.20 L96.5,98.20 M94.3,90.86 L96.5,90.86 M94.3,83.52 L96.5,83.52 M94.3,76.18 L96.5,76.18 M94.3,68.84 L96.5,68.84 M92.0,61.50 L96.5,61.50 M94.3,54.16 L96.5,54.16 M94.3,46.82 L96.5,46.82 M94.3,39.48 L96.5,39.48 M94.3,32.14 L96.5,32.14 M96.50,208.3 L96.50,212.8 M102.02,208.3 L102.02,210.5 M107.54,208.3 L107.54,210.5 M113.06,208.3 L113.06,210.5 M118.58,208.3 L118.58,210.5 M124.10,208.3 L124.10,212.8 M129.62,208.3 L129.62,210.5 M135.14,208.3 L135.14,210.5 M140.66,208.3 L140.66,210.5 M146.18,208.3 L146.18,210.5 M151.70,208.3 L151.70,212.8 M157.22,208.3 L157.22,210.5 M162.74,208.3 L162.74,210.5 M168.26,208.3 L168.26,210.5 M173.78,208.3 L173.78,210.5 M179.30,208.3 L179.30,212.8 M184.82,208.3 L184.82,210.5 M190.34,208.3 L190.34,210.5 M195.86,208.3 L195.86,210.5 M201.38,208.3 L201.38,210.5 M206.90,208.3 L206.90,212.8 M212.42,208.3 L212.42,210.5 M217.94,208.3 L217.94,210.5" stroke="#1a1a1a" stroke-width="0.8" fill="none"/>
<text transform="translate(88.00,208.30) rotate(-90)" font-size="6.0" fill="#1a1a1a" stroke="#1a1a1a" stroke-width="0.12" text-anchor="middle">0</text>
<text transform="translate(88.00,171.60) rotate(-90)" font-size="6.0" fill="#1a1a1a" stroke="#1a1a1a" stroke-width="0.12" text-anchor="middle" textLength="7.0" lengthAdjust="spacingAndGlyphs">70</text>
<text transform="translate(88.00,134.90) rotate(-90)" font-size="6.0" fill="#1a1a1a" stroke="#1a1a1a" stroke-width="0.12" text-anchor="middle" textLength="10.6" lengthAdjust="spacingAndGlyphs">140</text>
<text transform="translate(88.00,98.20) rotate(-90)" font-size="6.0" fill="#1a1a1a" stroke="#1a1a1a" stroke-width="0.12" text-anchor="middle" textLength="10.6" lengthAdjust="spacingAndGlyphs">210</text>
<text transform="translate(88.00,61.50) rotate(-90)" font-size="6.0" fill="#1a1a1a" stroke="#1a1a1a" stroke-width="0.12" text-anchor="middle" textLength="10.6" lengthAdjust="spacingAndGlyphs">280</text>
<text x="96.50" y="222.10" font-size="6.0" fill="#1a1a1a" stroke="#1a1a1a" stroke-width="0.12" text-anchor="middle">0</text>
<text x="124.10" y="222.10" font-size="6.0" fill="#1a1a1a" stroke="#1a1a1a" stroke-width="0.12" text-anchor="middle">40</text>
<text x="151.70" y="222.10" font-size="6.0" fill="#1a1a1a" stroke="#1a1a1a" stroke-width="0.12" text-anchor="middle">80</text>
<text x="179.30" y="222.10" font-size="6.0" fill="#1a1a1a" stroke="#1a1a1a" stroke-width="0.12" text-anchor="middle">120</text>
<text x="206.90" y="222.10" font-size="6.0" fill="#1a1a1a" stroke="#1a1a1a" stroke-width="0.12" text-anchor="middle">160</text>
<path d="M142.60,209.10000000000002 L145.80,213.9 L139.40,213.9 Z" fill="#000"/>
<path d="M183.60,209.10000000000002 L186.80,213.9 L180.40,213.9 Z" fill="#000"/>
<path d="M278.44,208.30 L278.44,207.37 L278.69,207.16 L278.94,206.90 L279.19,206.59 L279.44,206.22 L279.69,205.79 L279.94,205.27 L280.19,204.66 L280.44,203.95 L280.69,203.13 L280.94,202.18 L281.19,201.08 L281.44,199.82 L281.69,198.38 L281.94,196.75 L282.19,194.91 L282.44,192.85 L282.69,190.54 L282.94,187.98 L283.19,185.15 L283.44,182.03 L283.69,178.63 L283.94,174.93 L284.19,170.94 L284.44,166.64 L284.69,162.05 L284.94,157.18 L285.19,152.04 L285.44,146.65 L285.69,141.03 L285.94,135.22 L286.19,129.26 L286.44,123.17 L286.69,117.01 L286.94,110.83 L287.19,104.67 L287.44,98.61 L287.69,92.69 L287.94,86.98 L288.19,81.54 L288.44,76.42 L288.69,71.69 L288.94,67.41 L289.19,63.61 L289.44,60.36 L289.69,57.68 L289.94,55.62 L290.19,54.20 L290.44,53.44 L290.69,53.34 L290.94,53.92 L291.19,55.16 L291.44,57.04 L291.69,59.55 L291.94,62.64 L292.19,66.29 L292.44,70.45 L292.69,75.06 L292.94,80.07 L293.19,85.43 L293.44,91.07 L293.69,96.94 L293.94,102.96 L294.19,109.10 L294.44,115.28 L294.69,121.45 L294.94,127.56 L295.19,133.57 L295.44,139.43 L295.69,145.10 L295.94,150.55 L296.19,155.77 L296.44,160.72 L296.69,165.39 L296.94,169.76 L297.19,173.84 L297.44,177.63 L297.69,181.11 L297.94,184.30 L298.19,187.21 L298.44,189.85 L298.69,192.23 L298.94,194.36 L299.19,196.26 L299.44,197.94 L299.69,199.43 L299.94,200.74 L300.19,201.88 L300.44,202.88 L300.69,203.74 L300.94,204.48 L301.19,205.11 L301.44,205.65 L301.69,206.11 L301.94,206.49 L302.19,206.82 L302.44,207.09 L302.69,207.32 L302.69,208.30 Z" fill="#ff0000" stroke="#400" stroke-width="0.6"/>
<path d="M314.70,208.30 L314.70,208.24 L314.95,208.24 L315.20,208.23 L315.45,208.22 L315.70,208.21 L315.95,208.20 L316.20,208.18 L316.45,208.17 L316.70,208.16 L316.95,208.14 L317.20,208.12 L317.45,208.10 L317.70,208.08 L317.95,208.05 L318.20,208.02 L318.45,208.00 L318.70,207.96 L318.95,207.93 L319.20,207.89 L319.45,207.85 L319.70,207.80 L319.95,207.76 L320.20,207.70 L320.45,207.65 L320.70,207.59 L320.95,207.52 L321.20,207.46 L321.45,207.38 L321.70,207.30 L321.95,207.22 L322.20,207.13 L322.45,207.03 L322.70,206.93 L322.95,206.83 L323.20,206.71 L323.45,206.60 L323.70,206.47 L323.95,206.34 L324.20,206.20 L324.45,206.06 L324.70,205.91 L324.95,205.76 L325.20,205.59 L325.45,205.43 L325.70,205.25 L325.95,205.07 L326.20,204.89 L326.45,204.70 L326.70,204.50 L326.95,204.30 L327.20,204.10 L327.45,203.89 L327.70,203.68 L327.95,203.46 L328.20,203.24 L328.45,203.02 L328.70,202.80 L328.95,202.58 L329.20,202.36 L329.45,202.14 L329.70,201.92 L329.95,201.70 L330.20,201.49 L330.45,201.27 L330.70,201.07 L330.95,200.86 L331.20,200.67 L331.45,200.48 L331.70,200.29 L331.95,200.12 L332.20,199.95 L332.45,199.79 L332.70,199.64 L332.95,199.50 L333.20,199.38 L333.45,199.26 L333.70,199.16 L333.95,199.07 L334.20,198.99 L334.45,198.92 L334.70,198.87 L334.95,198.83 L335.20,198.81 L335.45,198.80 L335.70,198.80 L335.95,198.82 L336.20,198.85 L336.45,198.90 L336.70,198.96 L336.95,199.03 L337.20,199.12 L337.45,199.22 L337.70,199.33 L337.95,199.45 L338.20,199.59 L338.45,199.73 L338.70,199.88 L338.95,200.05 L339.20,200.22 L339.45,200.40 L339.70,200.59 L339.95,200.78 L340.20,200.99 L340.45,201.19 L340.70,201.40 L340.95,201.62 L341.20,201.83 L341.45,202.05 L341.70,202.27 L341.95,202.49 L342.20,202.72 L342.45,202.94 L342.70,203.16 L342.95,203.37 L343.20,203.59 L343.45,203.80 L343.70,204.01 L343.95,204.22 L344.20,204.42 L344.45,204.62 L344.70,204.81 L344.95,205.00 L345.20,205.18 L345.45,205.36 L345.70,205.53 L345.95,205.69 L346.20,205.85 L346.45,206.00 L346.70,206.15 L346.95,206.29 L347.20,206.42 L347.45,206.55 L347.70,206.67 L347.95,206.78 L348.20,206.89 L348.45,206.99 L348.70,207.09 L348.95,207.18 L349.20,207.27 L349.45,207.35 L349.70,207.43 L349.95,207.50 L350.20,207.56 L350.45,207.63 L350.70,207.68 L350.95,207.74 L351.20,207.79 L351.45,207.83 L351.70,207.87 L351.95,207.91 L352.20,207.95 L352.45,207.98 L352.70,208.01 L352.95,208.04 L353.20,208.07 L353.45,208.09 L353.70,208.11 L353.95,208.13 L354.20,208.15 L354.45,208.16 L354.70,208.18 L354.95,208.19 L355.20,208.20 L355.45,208.21 L355.70,208.22 L355.95,208.23 L356.20,208.24 L356.20,208.30 Z" fill="#ff0000" stroke="#400" stroke-width="0.6"/>
<clipPath id="clipp2"><path d="M278.44,208.30 L278.44,207.37 L278.69,207.16 L278.94,206.90 L279.19,206.59 L279.44,206.22 L279.69,205.79 L279.94,205.27 L280.19,204.66 L280.44,203.95 L280.69,203.13 L280.94,202.18 L281.19,201.08 L281.44,199.82 L281.69,198.38 L281.94,196.75 L282.19,194.91 L282.44,192.85 L282.69,190.54 L282.94,187.98 L283.19,185.15 L283.44,182.03 L283.69,178.63 L283.94,174.93 L284.19,170.94 L284.44,166.64 L284.69,162.05 L284.94,157.18 L285.19,152.04 L285.44,146.65 L285.69,141.03 L285.94,135.22 L286.19,129.26 L286.44,123.17 L286.69,117.01 L286.94,110.83 L287.19,104.67 L287.44,98.61 L287.69,92.69 L287.94,86.98 L288.19,81.54 L288.44,76.42 L288.69,71.69 L288.94,67.41 L289.19,63.61 L289.44,60.36 L289.69,57.68 L289.94,55.62 L290.19,54.20 L290.44,53.44 L290.69,53.34 L290.94,53.92 L291.19,55.16 L291.44,57.04 L291.69,59.55 L291.94,62.64 L292.19,66.29 L292.44,70.45 L292.69,75.06 L292.94,80.07 L293.19,85.43 L293.44,91.07 L293.69,96.94 L293.94,102.96 L294.19,109.10 L294.44,115.28 L294.69,121.45 L294.94,127.56 L295.19,133.57 L295.44,139.43 L295.69,145.10 L295.94,150.55 L296.19,155.77 L296.44,160.72 L296.69,165.39 L296.94,169.76 L297.19,173.84 L297.44,177.63 L297.69,181.11 L297.94,184.30 L298.19,187.21 L298.44,189.85 L298.69,192.23 L298.94,194.36 L299.19,196.26 L299.44,197.94 L299.69,199.43 L299.94,200.74 L300.19,201.88 L300.44,202.88 L300.69,203.74 L300.94,204.48 L301.19,205.11 L301.44,205.65 L301.69,206.11 L301.94,206.49 L302.19,206.82 L302.44,207.09 L302.69,207.32 L302.69,208.30 Z M314.70,208.30 L314.70,208.24 L314.95,208.24 L315.20,208.23 L315.45,208.22 L315.70,208.21 L315.95,208.20 L316.20,208.18 L316.45,208.17 L316.70,208.16 L316.95,208.14 L317.20,208.12 L317.45,208.10 L317.70,208.08 L317.95,208.05 L318.20,208.02 L318.45,208.00 L318.70,207.96 L318.95,207.93 L319.20,207.89 L319.45,207.85 L319.70,207.80 L319.95,207.76 L320.20,207.70 L320.45,207.65 L320.70,207.59 L320.95,207.52 L321.20,207.46 L321.45,207.38 L321.70,207.30 L321.95,207.22 L322.20,207.13 L322.45,207.03 L322.70,206.93 L322.95,206.83 L323.20,206.71 L323.45,206.60 L323.70,206.47 L323.95,206.34 L324.20,206.20 L324.45,206.06 L324.70,205.91 L324.95,205.76 L325.20,205.59 L325.45,205.43 L325.70,205.25 L325.95,205.07 L326.20,204.89 L326.45,204.70 L326.70,204.50 L326.95,204.30 L327.20,204.10 L327.45,203.89 L327.70,203.68 L327.95,203.46 L328.20,203.24 L328.45,203.02 L328.70,202.80 L328.95,202.58 L329.20,202.36 L329.45,202.14 L329.70,201.92 L329.95,201.70 L330.20,201.49 L330.45,201.27 L330.70,201.07 L330.95,200.86 L331.20,200.67 L331.45,200.48 L331.70,200.29 L331.95,200.12 L332.20,199.95 L332.45,199.79 L332.70,199.64 L332.95,199.50 L333.20,199.38 L333.45,199.26 L333.70,199.16 L333.95,199.07 L334.20,198.99 L334.45,198.92 L334.70,198.87 L334.95,198.83 L335.20,198.81 L335.45,198.80 L335.70,198.80 L335.95,198.82 L336.20,198.85 L336.45,198.90 L336.70,198.96 L336.95,199.03 L337.20,199.12 L337.45,199.22 L337.70,199.33 L337.95,199.45 L338.20,199.59 L338.45,199.73 L338.70,199.88 L338.95,200.05 L339.20,200.22 L339.45,200.40 L339.70,200.59 L339.95,200.78 L340.20,200.99 L340.45,201.19 L340.70,201.40 L340.95,201.62 L341.20,201.83 L341.45,202.05 L341.70,202.27 L341.95,202.49 L342.20,202.72 L342.45,202.94 L342.70,203.16 L342.95,203.37 L343.20,203.59 L343.45,203.80 L343.70,204.01 L343.95,204.22 L344.20,204.42 L344.45,204.62 L344.70,204.81 L344.95,205.00 L345.20,205.18 L345.45,205.36 L345.70,205.53 L345.95,205.69 L346.20,205.85 L346.45,206.00 L346.70,206.15 L346.95,206.29 L347.20,206.42 L347.45,206.55 L347.70,206.67 L347.95,206.78 L348.20,206.89 L348.45,206.99 L348.70,207.09 L348.95,207.18 L349.20,207.27 L349.45,207.35 L349.70,207.43 L349.95,207.50 L350.20,207.56 L350.45,207.63 L350.70,207.68 L350.95,207.74 L351.20,207.79 L351.45,207.83 L351.70,207.87 L351.95,207.91 L352.20,207.95 L352.45,207.98 L352.70,208.01 L352.95,208.04 L353.20,208.07 L353.45,208.09 L353.70,208.11 L353.95,208.13 L354.20,208.15 L354.45,208.16 L354.70,208.18 L354.95,208.19 L355.20,208.20 L355.45,208.21 L355.70,208.22 L355.95,208.23 L356.20,208.24 L356.20,208.30 Z"/></clipPath>
<path d="M278.80,208.30 L278.80,208.30 L279.05,208.29 L279.30,208.29 L279.55,208.29 L279.80,208.29 L280.05,208.28 L280.30,208.28 L280.55,208.27 L280.80,208.27 L281.05,208.26 L281.30,208.25 L281.55,208.23 L281.80,208.21 L282.05,208.19 L282.30,208.17 L282.55,208.14 L282.80,208.10 L283.05,208.05 L283.30,208.00 L283.55,207.94 L283.80,207.87 L284.05,207.78 L284.30,207.68 L284.55,207.57 L284.80,207.44 L285.05,207.29 L285.30,207.13 L285.55,206.94 L285.80,206.74 L286.05,206.51 L286.30,206.26 L286.55,205.98 L286.80,205.68 L287.05,205.36 L287.30,205.01 L287.55,204.64 L287.80,204.24 L288.05,203.83 L288.30,203.39 L288.55,202.93 L288.80,202.46 L289.05,201.98 L289.30,201.48 L289.55,200.97 L289.80,200.46 L290.05,199.95 L290.30,199.43 L290.55,198.92 L290.80,198.42 L291.05,197.93 L291.30,197.45 L291.55,196.98 L291.80,196.53 L292.05,196.10 L292.30,195.70 L292.55,195.31 L292.80,194.95 L293.05,194.61 L293.30,194.29 L293.55,194.00 L293.80,193.74 L294.05,193.50 L294.30,193.28 L294.55,193.08 L294.80,192.90 L295.05,192.74 L295.30,192.61 L295.55,192.48 L295.80,192.38 L296.05,192.28 L296.30,192.20 L296.55,192.14 L296.80,192.08 L297.05,192.03 L297.30,191.99 L297.55,191.95 L297.80,191.92 L298.05,191.90 L298.30,191.88 L298.55,191.86 L298.80,191.85 L299.05,191.84 L299.30,191.83 L299.55,191.82 L299.80,191.82 L300.05,191.81 L300.30,191.81 L300.55,191.81 L300.80,191.81 L301.05,191.80 L301.30,191.80 L301.55,191.80 L301.80,191.80 L302.05,191.80 L302.30,191.80 L302.55,191.80 L302.80,191.80 L303.05,191.80 L303.30,191.80 L303.55,191.80 L303.80,191.80 L304.05,191.80 L304.30,191.80 L304.55,191.80 L304.80,191.80 L305.05,191.80 L305.30,191.80 L305.55,191.80 L305.80,191.80 L306.05,191.80 L306.30,191.80 L306.55,191.80 L306.80,191.80 L307.05,191.80 L307.30,191.80 L307.55,191.80 L307.80,191.80 L308.05,191.80 L308.30,191.80 L308.55,191.80 L308.80,191.80 L309.05,191.80 L309.30,191.80 L309.55,191.80 L309.80,191.80 L310.05,191.80 L310.30,191.80 L310.55,191.80 L310.80,191.80 L311.05,191.80 L311.30,191.80 L311.55,191.80 L311.80,191.80 L312.05,191.80 L312.30,191.80 L312.55,191.80 L312.80,191.80 L313.05,191.80 L313.30,191.80 L313.55,191.80 L313.80,191.81 L314.05,191.81 L314.30,191.81 L314.55,191.81 L314.80,191.81 L315.05,191.81 L315.30,191.81 L315.55,191.81 L315.80,191.82 L316.05,191.82 L316.30,191.82 L316.55,191.82 L316.80,191.83 L317.05,191.83 L317.30,191.83 L317.55,191.84 L317.80,191.84 L318.05,191.85 L318.30,191.85 L318.55,191.86 L318.80,191.87 L319.05,191.88 L319.30,191.88 L319.55,191.89 L319.80,191.90 L320.05,191.92 L320.30,191.93 L320.55,191.94 L320.80,191.96 L321.05,191.98 L321.30,192.00 L321.55,192.02 L321.80,192.04 L322.05,192.06 L322.30,192.09 L322.55,192.12 L322.80,192.15 L323.05,192.18 L323.30,192.22 L323.55,192.26 L323.80,192.30 L324.05,192.34 L324.30,192.39 L324.55,192.44 L324.80,192.50 L325.05,192.56 L325.30,192.62 L325.55,192.69 L325.80,192.76 L326.05,192.84 L326.30,192.92 L326.55,193.00 L326.80,193.09 L327.05,193.19 L327.30,193.29 L327.55,193.40 L327.80,193.51 L328.05,193.63 L328.30,193.75 L328.55,193.88 L328.80,194.01 L329.05,194.15 L329.30,194.30 L329.55,194.45 L329.80,194.61 L330.05,194.77 L330.30,194.94 L330.55,195.11 L330.80,195.30 L331.05,195.48 L331.30,195.67 L331.55,195.87 L331.80,196.07 L332.05,196.28 L332.30,196.50 L332.55,196.71 L332.80,196.94 L333.05,197.16 L333.30,197.39 L333.55,197.63 L333.80,197.86 L334.05,198.10 L334.30,198.35 L334.55,198.59 L334.80,198.84 L335.05,199.09 L335.30,199.34 L335.55,199.59 L335.80,199.85 L336.05,200.10 L336.30,200.35 L336.55,200.61 L336.80,200.86 L337.05,201.11 L337.30,201.36 L337.55,201.60 L337.80,201.85 L338.05,202.09 L338.30,202.33 L338.55,202.57 L338.80,202.80 L339.05,203.03 L339.30,203.25 L339.55,203.47 L339.80,203.69 L340.05,203.90 L340.30,204.11 L340.55,204.31 L340.80,204.50 L341.05,204.69 L341.30,204.88 L341.55,205.06 L341.80,205.23 L342.05,205.40 L342.30,205.56 L342.55,205.71 L342.80,205.86 L343.05,206.01 L343.30,206.14 L343.55,206.28 L343.80,206.40 L344.05,206.52 L344.30,206.64 L344.55,206.75 L344.80,206.85 L345.05,206.95 L345.30,207.04 L345.55,207.13 L345.80,207.21 L346.05,207.29 L346.30,207.37 L346.55,207.44 L346.80,207.50 L347.05,207.56 L347.30,207.62 L347.55,207.68 L347.80,207.73 L348.05,207.77 L348.30,207.82 L348.55,207.86 L348.80,207.90 L349.05,207.93 L349.30,207.96 L349.55,207.99 L349.80,208.02 L350.05,208.05 L350.30,208.07 L350.55,208.09 L350.80,208.11 L351.05,208.13 L351.30,208.15 L351.55,208.16 L351.80,208.18 L352.05,208.19 L352.30,208.20 L352.55,208.21 L352.80,208.22 L353.05,208.23 L353.30,208.24 L353.55,208.24 L353.80,208.25 L354.05,208.25 L354.30,208.26 L354.55,208.26 L354.80,208.27 L355.05,208.27 L355.30,208.28 L355.55,208.28 L355.80,208.28 L356.05,208.28 L356.30,208.29 L356.55,208.29 L356.80,208.29 L357.05,208.29 L357.30,208.29 L357.55,208.29 L357.80,208.29 L358.05,208.29 L358.30,208.30 L358.55,208.30 L358.55,208.30 Z" fill="url(#hatch)"/>
<path d="M278.80,208.30 L278.80,208.30 L279.05,208.29 L279.30,208.29 L279.55,208.29 L279.80,208.29 L280.05,208.28 L280.30,208.28 L280.55,208.27 L280.80,208.27 L281.05,208.26 L281.30,208.25 L281.55,208.23 L281.80,208.21 L282.05,208.19 L282.30,208.17 L282.55,208.14 L282.80,208.10 L283.05,208.05 L283.30,208.00 L283.55,207.94 L283.80,207.87 L284.05,207.78 L284.30,207.68 L284.55,207.57 L284.80,207.44 L285.05,207.29 L285.30,207.13 L285.55,206.94 L285.80,206.74 L286.05,206.51 L286.30,206.26 L286.55,205.98 L286.80,205.68 L287.05,205.36 L287.30,205.01 L287.55,204.64 L287.80,204.24 L288.05,203.83 L288.30,203.39 L288.55,202.93 L288.80,202.46 L289.05,201.98 L289.30,201.48 L289.55,200.97 L289.80,200.46 L290.05,199.95 L290.30,199.43 L290.55,198.92 L290.80,198.42 L291.05,197.93 L291.30,197.45 L291.55,196.98 L291.80,196.53 L292.05,196.10 L292.30,195.70 L292.55,195.31 L292.80,194.95 L293.05,194.61 L293.30,194.29 L293.55,194.00 L293.80,193.74 L294.05,193.50 L294.30,193.28 L294.55,193.08 L294.80,192.90 L295.05,192.74 L295.30,192.61 L295.55,192.48 L295.80,192.38 L296.05,192.28 L296.30,192.20 L296.55,192.14 L296.80,192.08 L297.05,192.03 L297.30,191.99 L297.55,191.95 L297.80,191.92 L298.05,191.90 L298.30,191.88 L298.55,191.86 L298.80,191.85 L299.05,191.84 L299.30,191.83 L299.55,191.82 L299.80,191.82 L300.05,191.81 L300.30,191.81 L300.55,191.81 L300.80,191.81 L301.05,191.80 L301.30,191.80 L301.55,191.80 L301.80,191.80 L302.05,191.80 L302.30,191.80 L302.55,191.80 L302.80,191.80 L303.05,191.80 L303.30,191.80 L303.55,191.80 L303.80,191.80 L304.05,191.80 L304.30,191.80 L304.55,191.80 L304.80,191.80 L305.05,191.80 L305.30,191.80 L305.55,191.80 L305.80,191.80 L306.05,191.80 L306.30,191.80 L306.55,191.80 L306.80,191.80 L307.05,191.80 L307.30,191.80 L307.55,191.80 L307.80,191.80 L308.05,191.80 L308.30,191.80 L308.55,191.80 L308.80,191.80 L309.05,191.80 L309.30,191.80 L309.55,191.80 L309.80,191.80 L310.05,191.80 L310.30,191.80 L310.55,191.80 L310.80,191.80 L311.05,191.80 L311.30,191.80 L311.55,191.80 L311.80,191.80 L312.05,191.80 L312.30,191.80 L312.55,191.80 L312.80,191.80 L313.05,191.80 L313.30,191.80 L313.55,191.80 L313.80,191.81 L314.05,191.81 L314.30,191.81 L314.55,191.81 L314.80,191.81 L315.05,191.81 L315.30,191.81 L315.55,191.81 L315.80,191.82 L316.05,191.82 L316.30,191.82 L316.55,191.82 L316.80,191.83 L317.05,191.83 L317.30,191.83 L317.55,191.84 L317.80,191.84 L318.05,191.85 L318.30,191.85 L318.55,191.86 L318.80,191.87 L319.05,191.88 L319.30,191.88 L319.55,191.89 L319.80,191.90 L320.05,191.92 L320.30,191.93 L320.55,191.94 L320.80,191.96 L321.05,191.98 L321.30,192.00 L321.55,192.02 L321.80,192.04 L322.05,192.06 L322.30,192.09 L322.55,192.12 L322.80,192.15 L323.05,192.18 L323.30,192.22 L323.55,192.26 L323.80,192.30 L324.05,192.34 L324.30,192.39 L324.55,192.44 L324.80,192.50 L325.05,192.56 L325.30,192.62 L325.55,192.69 L325.80,192.76 L326.05,192.84 L326.30,192.92 L326.55,193.00 L326.80,193.09 L327.05,193.19 L327.30,193.29 L327.55,193.40 L327.80,193.51 L328.05,193.63 L328.30,193.75 L328.55,193.88 L328.80,194.01 L329.05,194.15 L329.30,194.30 L329.55,194.45 L329.80,194.61 L330.05,194.77 L330.30,194.94 L330.55,195.11 L330.80,195.30 L331.05,195.48 L331.30,195.67 L331.55,195.87 L331.80,196.07 L332.05,196.28 L332.30,196.50 L332.55,196.71 L332.80,196.94 L333.05,197.16 L333.30,197.39 L333.55,197.63 L333.80,197.86 L334.05,198.10 L334.30,198.35 L334.55,198.59 L334.80,198.84 L335.05,199.09 L335.30,199.34 L335.55,199.59 L335.80,199.85 L336.05,200.10 L336.30,200.35 L336.55,200.61 L336.80,200.86 L337.05,201.11 L337.30,201.36 L337.55,201.60 L337.80,201.85 L338.05,202.09 L338.30,202.33 L338.55,202.57 L338.80,202.80 L339.05,203.03 L339.30,203.25 L339.55,203.47 L339.80,203.69 L340.05,203.90 L340.30,204.11 L340.55,204.31 L340.80,204.50 L341.05,204.69 L341.30,204.88 L341.55,205.06 L341.80,205.23 L342.05,205.40 L342.30,205.56 L342.55,205.71 L342.80,205.86 L343.05,206.01 L343.30,206.14 L343.55,206.28 L343.80,206.40 L344.05,206.52 L344.30,206.64 L344.55,206.75 L344.80,206.85 L345.05,206.95 L345.30,207.04 L345.55,207.13 L345.80,207.21 L346.05,207.29 L346.30,207.37 L346.55,207.44 L346.80,207.50 L347.05,207.56 L347.30,207.62 L347.55,207.68 L347.80,207.73 L348.05,207.77 L348.30,207.82 L348.55,207.86 L348.80,207.90 L349.05,207.93 L349.30,207.96 L349.55,207.99 L349.80,208.02 L350.05,208.05 L350.30,208.07 L350.55,208.09 L350.80,208.11 L351.05,208.13 L351.30,208.15 L351.55,208.16 L351.80,208.18 L352.05,208.19 L352.30,208.20 L352.55,208.21 L352.80,208.22 L353.05,208.23 L353.30,208.24 L353.55,208.24 L353.80,208.25 L354.05,208.25 L354.30,208.26 L354.55,208.26 L354.80,208.27 L355.05,208.27 L355.30,208.28 L355.55,208.28 L355.80,208.28 L356.05,208.28 L356.30,208.29 L356.55,208.29 L356.80,208.29 L357.05,208.29 L357.30,208.29 L357.55,208.29 L357.80,208.29 L358.05,208.29 L358.30,208.30 L358.55,208.30 L358.55,208.30 Z" fill="#ff0000" clip-path="url(#clipp2)"/>
<path d="M278.80,208.30 L278.80,208.30 L279.05,208.29 L279.30,208.29 L279.55,208.29 L279.80,208.29 L280.05,208.28 L280.30,208.28 L280.55,208.27 L280.80,208.27 L281.05,208.26 L281.30,208.25 L281.55,208.23 L281.80,208.21 L282.05,208.19 L282.30,208.17 L282.55,208.14 L282.80,208.10 L283.05,208.05 L283.30,208.00 L283.55,207.94 L283.80,207.87 L284.05,207.78 L284.30,207.68 L284.55,207.57 L284.80,207.44 L285.05,207.29 L285.30,207.13 L285.55,206.94 L285.80,206.74 L286.05,206.51 L286.30,206.26 L286.55,205.98 L286.80,205.68 L287.05,205.36 L287.30,205.01 L287.55,204.64 L287.80,204.24 L288.05,203.83 L288.30,203.39 L288.55,202.93 L288.80,202.46 L289.05,201.98 L289.30,201.48 L289.55,200.97 L289.80,200.46 L290.05,199.95 L290.30,199.43 L290.55,198.92 L290.80,198.42 L291.05,197.93 L291.30,197.45 L291.55,196.98 L291.80,196.53 L292.05,196.10 L292.30,195.70 L292.55,195.31 L292.80,194.95 L293.05,194.61 L293.30,194.29 L293.55,194.00 L293.80,193.74 L294.05,193.50 L294.30,193.28 L294.55,193.08 L294.80,192.90 L295.05,192.74 L295.30,192.61 L295.55,192.48 L295.80,192.38 L296.05,192.28 L296.30,192.20 L296.55,192.14 L296.80,192.08 L297.05,192.03 L297.30,191.99 L297.55,191.95 L297.80,191.92 L298.05,191.90 L298.30,191.88 L298.55,191.86 L298.80,191.85 L299.05,191.84 L299.30,191.83 L299.55,191.82 L299.80,191.82 L300.05,191.81 L300.30,191.81 L300.55,191.81 L300.80,191.81 L301.05,191.80 L301.30,191.80 L301.55,191.80 L301.80,191.80 L302.05,191.80 L302.30,191.80 L302.55,191.80 L302.80,191.80 L303.05,191.80 L303.30,191.80 L303.55,191.80 L303.80,191.80 L304.05,191.80 L304.30,191.80 L304.55,191.80 L304.80,191.80 L305.05,191.80 L305.30,191.80 L305.55,191.80 L305.80,191.80 L306.05,191.80 L306.30,191.80 L306.55,191.80 L306.80,191.80 L307.05,191.80 L307.30,191.80 L307.55,191.80 L307.80,191.80 L308.05,191.80 L308.30,191.80 L308.55,191.80 L308.80,191.80 L309.05,191.80 L309.30,191.80 L309.55,191.80 L309.80,191.80 L310.05,191.80 L310.30,191.80 L310.55,191.80 L310.80,191.80 L311.05,191.80 L311.30,191.80 L311.55,191.80 L311.80,191.80 L312.05,191.80 L312.30,191.80 L312.55,191.80 L312.80,191.80 L313.05,191.80 L313.30,191.80 L313.55,191.80 L313.80,191.81 L314.05,191.81 L314.30,191.81 L314.55,191.81 L314.80,191.81 L315.05,191.81 L315.30,191.81 L315.55,191.81 L315.80,191.82 L316.05,191.82 L316.30,191.82 L316.55,191.82 L316.80,191.83 L317.05,191.83 L317.30,191.83 L317.55,191.84 L317.80,191.84 L318.05,191.85 L318.30,191.85 L318.55,191.86 L318.80,191.87 L319.05,191.88 L319.30,191.88 L319.55,191.89 L319.80,191.90 L320.05,191.92 L320.30,191.93 L320.55,191.94 L320.80,191.96 L321.05,191.98 L321.30,192.00 L321.55,192.02 L321.80,192.04 L322.05,192.06 L322.30,192.09 L322.55,192.12 L322.80,192.15 L323.05,192.18 L323.30,192.22 L323.55,192.26 L323.80,192.30 L324.05,192.34 L324.30,192.39 L324.55,192.44 L324.80,192.50 L325.05,192.56 L325.30,192.62 L325.55,192.69 L325.80,192.76 L326.05,192.84 L326.30,192.92 L326.55,193.00 L326.80,193.09 L327.05,193.19 L327.30,193.29 L327.55,193.40 L327.80,193.51 L328.05,193.63 L328.30,193.75 L328.55,193.88 L328.80,194.01 L329.05,194.15 L329.30,194.30 L329.55,194.45 L329.80,194.61 L330.05,194.77 L330.30,194.94 L330.55,195.11 L330.80,195.30 L331.05,195.48 L331.30,195.67 L331.55,195.87 L331.80,196.07 L332.05,196.28 L332.30,196.50 L332.55,196.71 L332.80,196.94 L333.05,197.16 L333.30,197.39 L333.55,197.63 L333.80,197.86 L334.05,198.10 L334.30,198.35 L334.55,198.59 L334.80,198.84 L335.05,199.09 L335.30,199.34 L335.55,199.59 L335.80,199.85 L336.05,200.10 L336.30,200.35 L336.55,200.61 L336.80,200.86 L337.05,201.11 L337.30,201.36 L337.55,201.60 L337.80,201.85 L338.05,202.09 L338.30,202.33 L338.55,202.57 L338.80,202.80 L339.05,203.03 L339.30,203.25 L339.55,203.47 L339.80,203.69 L340.05,203.90 L340.30,204.11 L340.55,204.31 L340.80,204.50 L341.05,204.69 L341.30,204.88 L341.55,205.06 L341.80,205.23 L342.05,205.40 L342.30,205.56 L342.55,205.71 L342.80,205.86 L343.05,206.01 L343.30,206.14 L343.55,206.28 L343.80,206.40 L344.05,206.52 L344.30,206.64 L344.55,206.75 L344.80,206.85 L345.05,206.95 L345.30,207.04 L345.55,207.13 L345.80,207.21 L346.05,207.29 L346.30,207.37 L346.55,207.44 L346.80,207.50 L347.05,207.56 L347.30,207.62 L347.55,207.68 L347.80,207.73 L348.05,207.77 L348.30,207.82 L348.55,207.86 L348.80,207.90 L349.05,207.93 L349.30,207.96 L349.55,207.99 L349.80,208.02 L350.05,208.05 L350.30,208.07 L350.55,208.09 L350.80,208.11 L351.05,208.13 L351.30,208.15 L351.55,208.16 L351.80,208.18 L352.05,208.19 L352.30,208.20 L352.55,208.21 L352.80,208.22 L353.05,208.23 L353.30,208.24 L353.55,208.24 L353.80,208.25 L354.05,208.25 L354.30,208.26 L354.55,208.26 L354.80,208.27 L355.05,208.27 L355.30,208.28 L355.55,208.28 L355.80,208.28 L356.05,208.28 L356.30,208.29 L356.55,208.29 L356.80,208.29 L357.05,208.29 L357.30,208.29 L357.55,208.29 L357.80,208.29 L358.05,208.29 L358.30,208.30 L358.55,208.30 L358.55,208.30 Z" fill="url(#hatchR)" clip-path="url(#clipp2)"/>
<path d="M278.80,208.30 L278.80,208.30 L279.05,208.29 L279.30,208.29 L279.55,208.29 L279.80,208.29 L280.05,208.28 L280.30,208.28 L280.55,208.27 L280.80,208.27 L281.05,208.26 L281.30,208.25 L281.55,208.23 L281.80,208.21 L282.05,208.19 L282.30,208.17 L282.55,208.14 L282.80,208.10 L283.05,208.05 L283.30,208.00 L283.55,207.94 L283.80,207.87 L284.05,207.78 L284.30,207.68 L284.55,207.57 L284.80,207.44 L285.05,207.29 L285.30,207.13 L285.55,206.94 L285.80,206.74 L286.05,206.51 L286.30,206.26 L286.55,205.98 L286.80,205.68 L287.05,205.36 L287.30,205.01 L287.55,204.64 L287.80,204.24 L288.05,203.83 L288.30,203.39 L288.55,202.93 L288.80,202.46 L289.05,201.98 L289.30,201.48 L289.55,200.97 L289.80,200.46 L290.05,199.95 L290.30,199.43 L290.55,198.92 L290.80,198.42 L291.05,197.93 L291.30,197.45 L291.55,196.98 L291.80,196.53 L292.05,196.10 L292.30,195.70 L292.55,195.31 L292.80,194.95 L293.05,194.61 L293.30,194.29 L293.55,194.00 L293.80,193.74 L294.05,193.50 L294.30,193.28 L294.55,193.08 L294.80,192.90 L295.05,192.74 L295.30,192.61 L295.55,192.48 L295.80,192.38 L296.05,192.28 L296.30,192.20 L296.55,192.14 L296.80,192.08 L297.05,192.03 L297.30,191.99 L297.55,191.95 L297.80,191.92 L298.05,191.90 L298.30,191.88 L298.55,191.86 L298.80,191.85 L299.05,191.84 L299.30,191.83 L299.55,191.82 L299.80,191.82 L300.05,191.81 L300.30,191.81 L300.55,191.81 L300.80,191.81 L301.05,191.80 L301.30,191.80 L301.55,191.80 L301.80,191.80 L302.05,191.80 L302.30,191.80 L302.55,191.80 L302.80,191.80 L303.05,191.80 L303.30,191.80 L303.55,191.80 L303.80,191.80 L304.05,191.80 L304.30,191.80 L304.55,191.80 L304.80,191.80 L305.05,191.80 L305.30,191.80 L305.55,191.80 L305.80,191.80 L306.05,191.80 L306.30,191.80 L306.55,191.80 L306.80,191.80 L307.05,191.80 L307.30,191.80 L307.55,191.80 L307.80,191.80 L308.05,191.80 L308.30,191.80 L308.55,191.80 L308.80,191.80 L309.05,191.80 L309.30,191.80 L309.55,191.80 L309.80,191.80 L310.05,191.80 L310.30,191.80 L310.55,191.80 L310.80,191.80 L311.05,191.80 L311.30,191.80 L311.55,191.80 L311.80,191.80 L312.05,191.80 L312.30,191.80 L312.55,191.80 L312.80,191.80 L313.05,191.80 L313.30,191.80 L313.55,191.80 L313.80,191.81 L314.05,191.81 L314.30,191.81 L314.55,191.81 L314.80,191.81 L315.05,191.81 L315.30,191.81 L315.55,191.81 L315.80,191.82 L316.05,191.82 L316.30,191.82 L316.55,191.82 L316.80,191.83 L317.05,191.83 L317.30,191.83 L317.55,191.84 L317.80,191.84 L318.05,191.85 L318.30,191.85 L318.55,191.86 L318.80,191.87 L319.05,191.88 L319.30,191.88 L319.55,191.89 L319.80,191.90 L320.05,191.92 L320.30,191.93 L320.55,191.94 L320.80,191.96 L321.05,191.98 L321.30,192.00 L321.55,192.02 L321.80,192.04 L322.05,192.06 L322.30,192.09 L322.55,192.12 L322.80,192.15 L323.05,192.18 L323.30,192.22 L323.55,192.26 L323.80,192.30 L324.05,192.34 L324.30,192.39 L324.55,192.44 L324.80,192.50 L325.05,192.56 L325.30,192.62 L325.55,192.69 L325.80,192.76 L326.05,192.84 L326.30,192.92 L326.55,193.00 L326.80,193.09 L327.05,193.19 L327.30,193.29 L327.55,193.40 L327.80,193.51 L328.05,193.63 L328.30,193.75 L328.55,193.88 L328.80,194.01 L329.05,194.15 L329.30,194.30 L329.55,194.45 L329.80,194.61 L330.05,194.77 L330.30,194.94 L330.55,195.11 L330.80,195.30 L331.05,195.48 L331.30,195.67 L331.55,195.87 L331.80,196.07 L332.05,196.28 L332.30,196.50 L332.55,196.71 L332.80,196.94 L333.05,197.16 L333.30,197.39 L333.55,197.63 L333.80,197.86 L334.05,198.10 L334.30,198.35 L334.55,198.59 L334.80,198.84 L335.05,199.09 L335.30,199.34 L335.55,199.59 L335.80,199.85 L336.05,200.10 L336.30,200.35 L336.55,200.61 L336.80,200.86 L337.05,201.11 L337.30,201.36 L337.55,201.60 L337.80,201.85 L338.05,202.09 L338.30,202.33 L338.55,202.57 L338.80,202.80 L339.05,203.03 L339.30,203.25 L339.55,203.47 L339.80,203.69 L340.05,203.90 L340.30,204.11 L340.55,204.31 L340.80,204.50 L341.05,204.69 L341.30,204.88 L341.55,205.06 L341.80,205.23 L342.05,205.40 L342.30,205.56 L342.55,205.71 L342.80,205.86 L343.05,206.01 L343.30,206.14 L343.55,206.28 L343.80,206.40 L344.05,206.52 L344.30,206.64 L344.55,206.75 L344.80,206.85 L345.05,206.95 L345.30,207.04 L345.55,207.13 L345.80,207.21 L346.05,207.29 L346.30,207.37 L346.55,207.44 L346.80,207.50 L347.05,207.56 L347.30,207.62 L347.55,207.68 L347.80,207.73 L348.05,207.77 L348.30,207.82 L348.55,207.86 L348.80,207.90 L349.05,207.93 L349.30,207.96 L349.55,207.99 L349.80,208.02 L350.05,208.05 L350.30,208.07 L350.55,208.09 L350.80,208.11 L351.05,208.13 L351.30,208.15 L351.55,208.16 L351.80,208.18 L352.05,208.19 L352.30,208.20 L352.55,208.21 L352.80,208.22 L353.05,208.23 L353.30,208.24 L353.55,208.24 L353.80,208.25 L354.05,208.25 L354.30,208.26 L354.55,208.26 L354.80,208.27 L355.05,208.27 L355.30,208.28 L355.55,208.28 L355.80,208.28 L356.05,208.28 L356.30,208.29 L356.55,208.29 L356.80,208.29 L357.05,208.29 L357.30,208.29 L357.55,208.29 L357.80,208.29 L358.05,208.29 L358.30,208.30 L358.55,208.30 L358.55,208.30 Z" fill="none" stroke="#3a0a0a" stroke-width="0.7"/>
<path d="M266.93,208.30 L267.18,208.30 L267.43,208.30 L267.68,208.30 L267.93,208.30 L268.18,208.30 L268.43,208.30 L268.68,208.30 L268.93,208.30 L269.18,208.30 L269.43,208.30 L269.68,208.30 L269.93,208.30 L270.18,208.30 L270.43,208.30 L270.68,208.30 L270.93,208.30 L271.18,208.30 L271.43,208.30 L271.68,208.30 L271.93,208.30 L272.18,208.30 L272.43,208.30 L272.68,208.30 L272.93,208.30 L273.18,208.30 L273.43,208.29 L273.68,208.29 L273.93,208.29 L274.18,208.29 L274.43,208.28 L274.68,208.28 L274.93,208.27 L275.18,208.26 L275.43,208.25 L275.68,208.23 L275.93,208.21 L276.18,208.18 L276.43,208.15 L276.68,208.11 L276.93,208.06 L277.18,208.00 L277.43,207.92 L277.68,207.82 L277.93,207.70 L278.18,207.56 L278.43,207.38 L278.68,207.17 L278.93,206.91 L279.18,206.61 L279.43,206.24 L279.68,205.80 L279.93,205.29 L280.18,204.68 L280.43,203.98 L280.68,203.15 L280.93,202.20 L281.18,201.10 L281.43,199.84 L281.68,198.40 L281.93,196.76 L282.18,194.91 L282.43,192.83 L282.68,190.50 L282.93,187.92 L283.18,185.05 L283.43,181.90 L283.68,178.45 L283.93,174.69 L284.18,170.62 L284.43,166.23 L284.68,161.54 L284.93,156.55 L285.18,151.27 L285.43,145.72 L285.68,139.92 L285.93,133.90 L286.18,127.70 L286.43,121.36 L286.68,114.91 L286.93,108.42 L287.18,101.93 L287.43,95.50 L287.68,89.18 L287.93,83.05 L288.18,77.16 L288.43,71.58 L288.68,66.36 L288.93,61.56 L289.18,57.24 L289.43,53.45 L289.68,50.23 L289.93,47.61 L290.18,45.63 L290.43,44.31 L290.68,43.65 L290.93,43.68 L291.18,44.37 L291.43,45.72 L291.68,47.71 L291.93,50.30 L292.18,53.46 L292.43,57.14 L292.68,61.29 L292.93,65.86 L293.18,70.80 L293.43,76.03 L293.68,81.50 L293.93,87.14 L294.18,92.90 L294.43,98.71 L294.68,104.53 L294.93,110.28 L295.18,115.94 L295.43,121.45 L295.68,126.77 L295.93,131.88 L296.18,136.74 L296.43,141.35 L296.68,145.67 L296.93,149.71 L297.18,153.46 L297.43,156.92 L297.68,160.10 L297.93,163.01 L298.18,165.65 L298.43,168.04 L298.68,170.20 L298.93,172.15 L299.18,173.91 L299.43,175.48 L299.68,176.90 L299.93,178.18 L300.18,179.34 L300.43,180.39 L300.68,181.34 L300.93,182.22 L301.18,183.02 L301.43,183.76 L301.68,184.45 L301.93,185.09 L302.18,185.69 L302.43,186.25 L302.68,186.77 L302.93,187.26 L303.18,187.72 L303.43,188.15 L303.68,188.55 L303.93,188.92 L304.18,189.26 L304.43,189.57 L304.68,189.86 L304.93,190.11 L305.18,190.35 L305.43,190.55 L305.68,190.74 L305.93,190.90 L306.18,191.04 L306.43,191.17 L306.68,191.27 L306.93,191.37 L307.18,191.44 L307.43,191.51 L307.68,191.57 L307.93,191.61 L308.18,191.65 L308.43,191.68 L308.68,191.70 L308.93,191.72 L309.18,191.74 L309.43,191.75 L309.68,191.76 L309.93,191.77 L310.18,191.78 L310.43,191.78 L310.68,191.78 L310.93,191.79 L311.18,191.79 L311.43,191.79 L311.68,191.79 L311.93,191.79 L312.18,191.79 L312.43,191.78 L312.68,191.78 L312.93,191.78 L313.18,191.78 L313.43,191.77 L313.68,191.77 L313.93,191.77 L314.18,191.76 L314.43,191.76 L314.68,191.75 L314.93,191.74 L315.18,191.74 L315.43,191.73 L315.68,191.72 L315.93,191.71 L316.18,191.69 L316.43,191.68 L316.68,191.66 L316.93,191.65 L317.18,191.63 L317.43,191.60 L317.68,191.58 L317.93,191.55 L318.18,191.51 L318.43,191.47 L318.68,191.43 L318.93,191.38 L319.18,191.32 L319.43,191.25 L319.68,191.18 L319.93,191.09 L320.18,191.00 L320.43,190.89 L320.68,190.77 L320.93,190.64 L321.18,190.49 L321.43,190.33 L321.68,190.14 L321.93,189.94 L322.18,189.72 L322.43,189.48 L322.68,189.21 L322.93,188.93 L323.18,188.62 L323.43,188.30 L323.68,187.95 L323.93,187.58 L324.18,187.19 L324.43,186.79 L324.68,186.37 L324.93,185.94 L325.18,185.50 L325.43,185.05 L325.68,184.60 L325.93,184.15 L326.18,183.71 L326.43,183.27 L326.68,182.85 L326.93,182.45 L327.18,182.07 L327.43,181.72 L327.68,181.40 L327.93,181.12 L328.18,180.87 L328.43,180.67 L328.68,180.50 L328.93,180.39 L329.18,180.32 L329.43,180.29 L329.68,180.32 L329.93,180.39 L330.18,180.50 L330.43,180.66 L330.68,180.86 L330.93,181.10 L331.18,181.37 L331.43,181.67 L331.68,182.01 L331.93,182.37 L332.18,182.75 L332.43,183.15 L332.68,183.57 L332.93,184.00 L333.18,184.44 L333.43,184.88 L333.68,185.33 L333.93,185.79 L334.18,186.24 L334.43,186.69 L334.68,187.14 L334.93,187.59 L335.18,188.04 L335.43,188.49 L335.68,188.93 L335.93,189.36 L336.18,189.80 L336.43,190.23 L336.68,190.66 L336.93,191.09 L337.18,191.52 L337.43,191.95 L337.68,192.37 L337.93,192.80 L338.18,193.23 L338.43,193.65 L338.68,194.08 L338.93,194.50 L339.18,194.93 L339.43,195.35 L339.68,195.78 L339.93,196.20 L340.18,196.62 L340.43,197.04 L340.68,197.46 L340.93,197.87 L341.18,198.28 L341.43,198.68 L341.68,199.08 L341.93,199.48 L342.18,199.86 L342.43,200.24 L342.68,200.62 L342.93,200.98 L343.18,201.34 L343.43,201.69 L343.68,202.03 L343.93,202.36 L344.18,202.68 L344.43,202.99 L344.68,203.29 L344.93,203.58 L345.18,203.86 L345.43,204.13 L345.68,204.38 L345.93,204.63 L346.18,204.86 L346.43,205.09 L346.68,205.30 L346.93,205.51 L347.18,205.70 L347.43,205.88 L347.68,206.06 L347.93,206.22 L348.18,206.38 L348.43,206.52 L348.68,206.66 L348.93,206.79 L349.18,206.91 L349.43,207.02 L349.68,207.13 L349.93,207.22 L350.18,207.32 L350.43,207.40 L350.68,207.48 L350.93,207.55 L351.18,207.62 L351.43,207.68 L351.68,207.74 L351.93,207.79 L352.18,207.84 L352.43,207.88 L352.68,207.93 L352.93,207.96 L353.18,208.00 L353.43,208.03 L353.68,208.06 L353.93,208.08 L354.18,208.10 L354.43,208.13 L354.68,208.14 L354.93,208.16 L355.18,208.18 L355.43,208.19 L355.68,208.20 L355.93,208.21 L356.18,208.22 L356.43,208.23 L356.68,208.24 L356.93,208.25 L357.18,208.25 L357.43,208.26 L357.68,208.26 L357.93,208.27 L358.18,208.27 L358.43,208.28 L358.68,208.28 L358.93,208.28 L359.18,208.28 L359.43,208.29 L359.68,208.29 L359.93,208.29 L360.18,208.29 L360.43,208.29 L360.68,208.29 L360.93,208.29 L361.18,208.30 L361.43,208.30 L361.68,208.30 L361.93,208.30 L362.18,208.30 L362.43,208.30 L362.68,208.30 L362.93,208.30 L363.18,208.30" fill="none" stroke="#000" stroke-width="0.9"/>
<path d="M266.93,208.30 L267.61,208.30 L268.30,208.00 L268.99,208.30 L269.68,208.30 L270.36,208.30 L271.05,207.80 L271.74,208.21 L272.43,207.68 L273.11,208.30 L273.80,208.11 L274.49,208.30 L275.18,208.30 L275.86,208.15 L276.55,208.30 L277.24,208.14 L277.93,207.34 L278.61,207.19 L279.30,206.81 L279.99,202.52 L280.68,203.06 L281.36,201.30 L282.05,195.48 L282.74,191.40 L283.43,183.24 L284.11,173.10 L284.80,151.65 L285.49,144.17 L286.18,126.64 L286.86,105.53 L287.55,79.54 L288.24,77.48 L288.93,39.56 L289.61,34.89 L290.30,57.49 L290.99,34.79 L291.68,42.00 L292.36,40.50 L293.05,75.88 L293.74,101.27 L294.43,94.03 L295.11,117.95 L295.80,131.68 L296.49,139.92 L297.18,152.34 L297.86,160.97 L298.55,170.97 L299.24,169.24 L299.93,172.60 L300.61,181.00 L301.30,184.92 L301.99,182.86 L302.68,185.28 L303.36,191.21 L304.05,190.46 L304.74,186.88 L305.43,190.83 L306.11,191.93 L306.80,190.73 L307.49,191.62 L308.18,191.66 L308.86,196.67 L309.55,186.95 L310.24,191.23 L310.93,194.19 L311.61,189.10 L312.30,190.94 L312.99,191.73 L313.68,188.89 L314.36,186.93 L315.05,190.22 L315.74,187.35 L316.43,186.85 L317.11,194.45 L317.80,193.01 L318.49,189.31 L319.18,196.08 L319.86,191.87 L320.55,187.18 L321.24,187.47 L321.93,188.26 L322.61,194.84 L323.30,183.38 L323.99,185.79 L324.68,183.94 L325.36,183.55 L326.05,189.65 L326.74,187.65 L327.43,185.96 L328.11,175.24 L328.80,183.40 L329.49,181.16 L330.18,181.41 L330.86,179.02 L331.55,180.10 L332.24,181.94 L332.93,188.20 L333.61,191.79 L334.30,185.94 L334.99,186.88 L335.68,185.27 L336.36,190.42 L337.05,193.01 L337.74,191.38 L338.43,197.67 L339.11,197.41 L339.80,198.37 L340.49,196.49 L341.18,193.98 L341.86,197.84 L342.55,198.27 L343.24,201.01 L343.93,201.90 L344.61,203.90 L345.30,204.39 L345.99,206.39 L346.68,206.71 L347.36,207.20 L348.05,205.50 L348.74,206.12 L349.43,206.15 L350.11,206.24 L350.80,207.70 L351.49,207.14 L352.18,206.94 L352.86,207.96 L353.55,207.55 L354.24,208.18 L354.93,208.30 L355.61,208.15 L356.30,208.30 L356.99,208.20 L357.68,208.30 L358.36,208.13 L359.05,208.30 L359.74,207.34 L360.43,207.67 L361.11,208.30 L361.80,208.30 L362.49,208.30 L363.18,207.99" fill="none" stroke="#383838" stroke-width="0.85"/>
<path d="M246.3,27 L246.3,212.8 M242,208.3 L369.7,208.3" stroke="#2a2a2a" stroke-width="0.9" fill="none"/>
<path d="M241.8,208.30 L246.3,208.30 M244.10000000000002,202.26 L246.3,202.26 M244.10000000000002,196.22 L246.3,196.22 M244.10000000000002,190.18 L246.3,190.18 M244.10000000000002,184.14 L246.3,184.14 M241.8,178.10 L246.3,178.10 M244.10000000000002,172.06 L246.3,172.06 M244.10000000000002,166.02 L246.3,166.02 M244.10000000000002,159.98 L246.3,159.98 M244.10000000000002,153.94 L246.3,153.94 M241.8,147.90 L246.3,147.90 M244.10000000000002,141.86 L246.3,141.86 M244.10000000000002,135.82 L246.3,135.82 M244.10000000000002,129.78 L246.3,129.78 M244.10000000000002,123.74 L246.3,123.74 M241.8,117.70 L246.3,117.70 M244.10000000000002,111.66 L246.3,111.66 M244.10000000000002,105.62 L246.3,105.62 M244.10000000000002,99.58 L246.3,99.58 M244.10000000000002,93.54 L246.3,93.54 M241.8,87.50 L246.3,87.50 M244.10000000000002,81.46 L246.3,81.46 M244.10000000000002,75.42 L246.3,75.42 M244.10000000000002,69.38 L246.3,69.38 M244.10000000000002,63.34 L246.3,63.34 M241.8,57.30 L246.3,57.30 M244.10000000000002,51.26 L246.3,51.26 M244.10000000000002,45.22 L246.3,45.22 M244.10000000000002,39.18 L246.3,39.18 M244.10000000000002,33.14 L246.3,33.14 M241.8,27.10 L246.3,27.10 M246.30,208.3 L246.30,212.8 M251.80,208.3 L251.80,210.5 M257.30,208.3 L257.30,210.5 M262.80,208.3 L262.80,210.5 M268.30,208.3 L268.30,210.5 M273.80,208.3 L273.80,212.8 M279.30,208.3 L279.30,210.5 M284.80,208.3 L284.80,210.5 M290.30,208.3 L290.30,210.5 M295.80,208.3 L295.80,210.5 M301.30,208.3 L301.30,212.8 M306.80,208.3 L306.80,210.5 M312.30,208.3 L312.30,210.5 M317.80,208.3 L317.80,210.5 M323.30,208.3 L323.30,210.5 M328.80,208.3 L328.80,212.8 M334.30,208.3 L334.30,210.5 M339.80,208.3 L339.80,210.5 M345.30,208.3 L345.30,210.5 M350.80,208.3 L350.80,210.5 M356.30,208.3 L356.30,212.8 M361.80,208.3 L361.80,210.5 M367.30,208.3 L367.30,210.5" stroke="#1a1a1a" stroke-width="0.8" fill="none"/>
<text transform="translate(237.80,208.30) rotate(-90)" font-size="6.0" fill="#1a1a1a" stroke="#1a1a1a" stroke-width="0.12" text-anchor="middle">0</text>
<text transform="translate(237.80,178.10) rotate(-90)" font-size="6.0" fill="#1a1a1a" stroke="#1a1a1a" stroke-width="0.12" text-anchor="middle" textLength="7.0" lengthAdjust="spacingAndGlyphs">20</text>
<text transform="translate(237.80,147.90) rotate(-90)" font-size="6.0" fill="#1a1a1a" stroke="#1a1a1a" stroke-width="0.12" text-anchor="middle" textLength="7.0" lengthAdjust="spacingAndGlyphs">40</text>
<text transform="translate(237.80,117.70) rotate(-90)" font-size="6.0" fill="#1a1a1a" stroke="#1a1a1a" stroke-width="0.12" text-anchor="middle" textLength="7.0" lengthAdjust="spacingAndGlyphs">60</text>
<text transform="translate(237.80,87.50) rotate(-90)" font-size="6.0" fill="#1a1a1a" stroke="#1a1a1a" stroke-width="0.12" text-anchor="middle" textLength="7.0" lengthAdjust="spacingAndGlyphs">80</text>
<text transform="translate(237.80,57.30) rotate(-90)" font-size="6.0" fill="#1a1a1a" stroke="#1a1a1a" stroke-width="0.12" text-anchor="middle" textLength="10.6" lengthAdjust="spacingAndGlyphs">100</text>
<text x="246.30" y="222.10" font-size="6.0" fill="#1a1a1a" stroke="#1a1a1a" stroke-width="0.12" text-anchor="middle">0</text>
<text x="273.80" y="222.10" font-size="6.0" fill="#1a1a1a" stroke="#1a1a1a" stroke-width="0.12" text-anchor="middle">40</text>
<text x="301.30" y="222.10" font-size="6.0" fill="#1a1a1a" stroke="#1a1a1a" stroke-width="0.12" text-anchor="middle">80</text>
<text x="328.80" y="222.10" font-size="6.0" fill="#1a1a1a" stroke="#1a1a1a" stroke-width="0.12" text-anchor="middle">120</text>
<text x="356.30" y="222.10" font-size="6.0" fill="#1a1a1a" stroke="#1a1a1a" stroke-width="0.12" text-anchor="middle">160</text>
<path d="M291.00,209.10000000000002 L294.20,213.9 L287.80,213.9 Z" fill="#000"/>
<path d="M433.79,207.70 L433.79,197.48 L434.04,196.16 L434.29,194.71 L434.54,193.13 L434.79,191.39 L435.04,189.50 L435.29,187.45 L435.54,185.24 L435.79,182.85 L436.04,180.28 L436.29,177.53 L436.54,174.60 L436.79,171.50 L437.04,168.21 L437.29,164.74 L437.54,161.10 L437.79,157.29 L438.04,153.33 L438.29,149.23 L438.54,144.99 L438.79,140.63 L439.04,136.17 L439.29,131.63 L439.54,127.04 L439.79,122.40 L440.04,117.76 L440.29,113.13 L440.54,108.54 L440.79,104.03 L441.04,99.61 L441.29,95.33 L441.54,91.20 L441.79,87.27 L442.04,83.55 L442.29,80.08 L442.54,76.89 L442.79,73.99 L443.04,71.42 L443.29,69.19 L443.54,67.32 L443.79,65.82 L444.04,64.72 L444.29,64.01 L444.54,63.71 L444.79,63.82 L445.04,64.33 L445.29,65.24 L445.54,66.55 L445.79,68.24 L446.04,70.30 L446.29,72.71 L446.54,75.46 L446.79,78.51 L447.04,81.85 L447.29,85.46 L447.54,89.29 L447.79,93.33 L448.04,97.54 L448.29,101.89 L448.54,106.36 L448.79,110.92 L449.04,115.53 L449.29,120.17 L449.54,124.82 L449.79,129.43 L450.04,134.00 L450.29,138.50 L450.54,142.91 L450.79,147.21 L451.04,151.38 L451.29,155.41 L451.54,159.29 L451.79,163.01 L452.04,166.56 L452.29,169.94 L452.54,173.13 L452.79,176.15 L453.04,178.98 L453.29,181.64 L453.54,184.11 L453.79,186.41 L454.04,188.54 L454.29,190.51 L454.54,192.31 L454.79,193.97 L455.04,195.48 L455.29,196.86 L455.29,207.70 Z" fill="#ff0000" stroke="#400" stroke-width="0.6"/>
<path d="M467.50,207.70 L467.50,203.29 L467.75,203.03 L468.00,202.75 L468.25,202.46 L468.50,202.17 L468.75,201.85 L469.00,201.53 L469.25,201.19 L469.50,200.84 L469.75,200.47 L470.00,200.10 L470.25,199.70 L470.50,199.30 L470.75,198.88 L471.00,198.45 L471.25,198.00 L471.50,197.54 L471.75,197.07 L472.00,196.58 L472.25,196.08 L472.50,195.56 L472.75,195.04 L473.00,194.50 L473.25,193.94 L473.50,193.38 L473.75,192.80 L474.00,192.22 L474.25,191.62 L474.50,191.01 L474.75,190.39 L475.00,189.77 L475.25,189.13 L475.50,188.49 L475.75,187.84 L476.00,187.18 L476.25,186.52 L476.50,185.86 L476.75,185.19 L477.00,184.52 L477.25,183.84 L477.50,183.17 L477.75,182.50 L478.00,181.82 L478.25,181.15 L478.50,180.49 L478.75,179.83 L479.00,179.17 L479.25,178.53 L479.50,177.89 L479.75,177.26 L480.00,176.64 L480.25,176.03 L480.50,175.43 L480.75,174.85 L481.00,174.29 L481.25,173.74 L481.50,173.21 L481.75,172.70 L482.00,172.21 L482.25,171.73 L482.50,171.28 L482.75,170.86 L483.00,170.45 L483.25,170.08 L483.50,169.72 L483.75,169.40 L484.00,169.10 L484.25,168.83 L484.50,168.58 L484.75,168.37 L485.00,168.18 L485.25,168.03 L485.50,167.90 L485.75,167.80 L486.00,167.74 L486.25,167.71 L486.50,167.70 L486.75,167.73 L487.00,167.79 L487.25,167.88 L487.50,168.00 L487.75,168.15 L488.00,168.33 L488.25,168.54 L488.50,168.77 L488.75,169.04 L489.00,169.33 L489.25,169.66 L489.50,170.00 L489.75,170.38 L490.00,170.78 L490.25,171.20 L490.50,171.64 L490.75,172.11 L491.00,172.60 L491.25,173.11 L491.50,173.63 L491.75,174.18 L492.00,174.74 L492.25,175.32 L492.50,175.91 L492.75,176.51 L493.00,177.13 L493.25,177.76 L493.50,178.40 L493.75,179.04 L494.00,179.70 L494.25,180.36 L494.50,181.02 L494.75,181.69 L495.00,182.36 L495.25,183.03 L495.50,183.71 L495.75,184.38 L496.00,185.05 L496.25,185.72 L496.50,186.39 L496.75,187.05 L497.00,187.71 L497.25,188.36 L497.50,189.00 L497.75,189.64 L498.00,190.27 L498.25,190.89 L498.50,191.50 L498.75,192.10 L499.00,192.69 L499.25,193.27 L499.50,193.83 L499.75,194.39 L500.00,194.93 L500.25,195.46 L500.50,195.98 L500.75,196.48 L501.00,196.97 L501.25,197.45 L501.50,197.91 L501.75,198.36 L502.00,198.79 L502.25,199.22 L502.50,199.62 L502.75,200.02 L503.00,200.40 L503.25,200.77 L503.50,201.12 L503.75,201.46 L504.00,201.79 L504.25,202.10 L504.50,202.41 L504.75,202.70 L505.00,202.97 L505.25,203.24 L505.25,207.70 Z" fill="#ff0000" stroke="#400" stroke-width="0.6"/>
<clipPath id="clipp3"><path d="M433.79,207.70 L433.79,197.48 L434.04,196.16 L434.29,194.71 L434.54,193.13 L434.79,191.39 L435.04,189.50 L435.29,187.45 L435.54,185.24 L435.79,182.85 L436.04,180.28 L436.29,177.53 L436.54,174.60 L436.79,171.50 L437.04,168.21 L437.29,164.74 L437.54,161.10 L437.79,157.29 L438.04,153.33 L438.29,149.23 L438.54,144.99 L438.79,140.63 L439.04,136.17 L439.29,131.63 L439.54,127.04 L439.79,122.40 L440.04,117.76 L440.29,113.13 L440.54,108.54 L440.79,104.03 L441.04,99.61 L441.29,95.33 L441.54,91.20 L441.79,87.27 L442.04,83.55 L442.29,80.08 L442.54,76.89 L442.79,73.99 L443.04,71.42 L443.29,69.19 L443.54,67.32 L443.79,65.82 L444.04,64.72 L444.29,64.01 L444.54,63.71 L444.79,63.82 L445.04,64.33 L445.29,65.24 L445.54,66.55 L445.79,68.24 L446.04,70.30 L446.29,72.71 L446.54,75.46 L446.79,78.51 L447.04,81.85 L447.29,85.46 L447.54,89.29 L447.79,93.33 L448.04,97.54 L448.29,101.89 L448.54,106.36 L448.79,110.92 L449.04,115.53 L449.29,120.17 L449.54,124.82 L449.79,129.43 L450.04,134.00 L450.29,138.50 L450.54,142.91 L450.79,147.21 L451.04,151.38 L451.29,155.41 L451.54,159.29 L451.79,163.01 L452.04,166.56 L452.29,169.94 L452.54,173.13 L452.79,176.15 L453.04,178.98 L453.29,181.64 L453.54,184.11 L453.79,186.41 L454.04,188.54 L454.29,190.51 L454.54,192.31 L454.79,193.97 L455.04,195.48 L455.29,196.86 L455.29,207.70 Z M467.50,207.70 L467.50,203.29 L467.75,203.03 L468.00,202.75 L468.25,202.46 L468.50,202.17 L468.75,201.85 L469.00,201.53 L469.25,201.19 L469.50,200.84 L469.75,200.47 L470.00,200.10 L470.25,199.70 L470.50,199.30 L470.75,198.88 L471.00,198.45 L471.25,198.00 L471.50,197.54 L471.75,197.07 L472.00,196.58 L472.25,196.08 L472.50,195.56 L472.75,195.04 L473.00,194.50 L473.25,193.94 L473.50,193.38 L473.75,192.80 L474.00,192.22 L474.25,191.62 L474.50,191.01 L474.75,190.39 L475.00,189.77 L475.25,189.13 L475.50,188.49 L475.75,187.84 L476.00,187.18 L476.25,186.52 L476.50,185.86 L476.75,185.19 L477.00,184.52 L477.25,183.84 L477.50,183.17 L477.75,182.50 L478.00,181.82 L478.25,181.15 L478.50,180.49 L478.75,179.83 L479.00,179.17 L479.25,178.53 L479.50,177.89 L479.75,177.26 L480.00,176.64 L480.25,176.03 L480.50,175.43 L480.75,174.85 L481.00,174.29 L481.25,173.74 L481.50,173.21 L481.75,172.70 L482.00,172.21 L482.25,171.73 L482.50,171.28 L482.75,170.86 L483.00,170.45 L483.25,170.08 L483.50,169.72 L483.75,169.40 L484.00,169.10 L484.25,168.83 L484.50,168.58 L484.75,168.37 L485.00,168.18 L485.25,168.03 L485.50,167.90 L485.75,167.80 L486.00,167.74 L486.25,167.71 L486.50,167.70 L486.75,167.73 L487.00,167.79 L487.25,167.88 L487.50,168.00 L487.75,168.15 L488.00,168.33 L488.25,168.54 L488.50,168.77 L488.75,169.04 L489.00,169.33 L489.25,169.66 L489.50,170.00 L489.75,170.38 L490.00,170.78 L490.25,171.20 L490.50,171.64 L490.75,172.11 L491.00,172.60 L491.25,173.11 L491.50,173.63 L491.75,174.18 L492.00,174.74 L492.25,175.32 L492.50,175.91 L492.75,176.51 L493.00,177.13 L493.25,177.76 L493.50,178.40 L493.75,179.04 L494.00,179.70 L494.25,180.36 L494.50,181.02 L494.75,181.69 L495.00,182.36 L495.25,183.03 L495.50,183.71 L495.75,184.38 L496.00,185.05 L496.25,185.72 L496.50,186.39 L496.75,187.05 L497.00,187.71 L497.25,188.36 L497.50,189.00 L497.75,189.64 L498.00,190.27 L498.25,190.89 L498.50,191.50 L498.75,192.10 L499.00,192.69 L499.25,193.27 L499.50,193.83 L499.75,194.39 L500.00,194.93 L500.25,195.46 L500.50,195.98 L500.75,196.48 L501.00,196.97 L501.25,197.45 L501.50,197.91 L501.75,198.36 L502.00,198.79 L502.25,199.22 L502.50,199.62 L502.75,200.02 L503.00,200.40 L503.25,200.77 L503.50,201.12 L503.75,201.46 L504.00,201.79 L504.25,202.10 L504.50,202.41 L504.75,202.70 L505.00,202.97 L505.25,203.24 L505.25,207.70 Z"/></clipPath>
<path d="M441.90,207.70 L441.90,207.70 L442.15,207.70 L442.40,207.68 L442.65,207.65 L442.90,207.57 L443.15,207.39 L443.40,207.07 L443.65,206.58 L443.90,205.96 L444.15,205.31 L444.40,204.71 L444.65,204.26 L444.90,203.97 L445.15,203.81 L445.40,203.74 L445.65,203.71 L445.90,203.70 L446.15,203.70 L446.40,203.70 L446.65,203.70 L446.90,203.70 L447.15,203.70 L447.40,203.70 L447.65,203.70 L447.90,203.70 L448.15,203.70 L448.40,203.70 L448.65,203.70 L448.90,203.70 L449.15,203.70 L449.40,203.70 L449.65,203.70 L449.90,203.70 L450.15,203.70 L450.40,203.70 L450.65,203.70 L450.90,203.70 L451.15,203.70 L451.40,203.70 L451.65,203.70 L451.90,203.70 L452.15,203.70 L452.40,203.70 L452.65,203.70 L452.90,203.70 L453.15,203.70 L453.40,203.70 L453.65,203.70 L453.90,203.70 L454.15,203.70 L454.40,203.70 L454.65,203.70 L454.90,203.70 L455.15,203.70 L455.40,203.70 L455.65,203.70 L455.90,203.70 L456.15,203.70 L456.40,203.70 L456.65,203.70 L456.90,203.70 L457.15,203.70 L457.40,203.70 L457.65,203.70 L457.90,203.70 L458.15,203.70 L458.40,203.70 L458.65,203.70 L458.90,203.70 L459.15,203.70 L459.40,203.70 L459.65,203.70 L459.90,203.70 L460.15,203.70 L460.40,203.70 L460.65,203.70 L460.90,203.70 L461.15,203.70 L461.40,203.70 L461.65,203.70 L461.90,203.70 L462.15,203.70 L462.40,203.70 L462.65,203.70 L462.90,203.70 L463.15,203.70 L463.40,203.70 L463.65,203.70 L463.90,203.70 L464.15,203.70 L464.40,203.70 L464.65,203.70 L464.90,203.70 L465.15,203.70 L465.40,203.70 L465.65,203.70 L465.90,203.70 L466.15,203.70 L466.40,203.70 L466.65,203.70 L466.90,203.70 L467.15,203.70 L467.40,203.70 L467.65,203.70 L467.90,203.70 L468.15,203.70 L468.40,203.70 L468.65,203.70 L468.90,203.70 L469.15,203.70 L469.40,203.70 L469.65,203.70 L469.90,203.70 L470.15,203.70 L470.40,203.70 L470.65,203.70 L470.90,203.70 L471.15,203.70 L471.40,203.70 L471.65,203.70 L471.90,203.70 L472.15,203.70 L472.40,203.70 L472.65,203.70 L472.90,203.70 L473.15,203.70 L473.40,203.70 L473.65,203.70 L473.90,203.70 L474.15,203.70 L474.40,203.70 L474.65,203.70 L474.90,203.70 L475.15,203.70 L475.40,203.70 L475.65,203.70 L475.90,203.70 L476.15,203.70 L476.40,203.70 L476.65,203.70 L476.90,203.70 L477.15,203.70 L477.40,203.70 L477.65,203.70 L477.90,203.70 L478.15,203.70 L478.40,203.70 L478.65,203.70 L478.90,203.70 L479.15,203.70 L479.40,203.70 L479.65,203.70 L479.90,203.70 L480.15,203.70 L480.40,203.70 L480.65,203.70 L480.90,203.70 L481.15,203.70 L481.40,203.70 L481.65,203.70 L481.90,203.70 L482.15,203.70 L482.40,203.70 L482.65,203.70 L482.90,203.70 L483.15,203.70 L483.40,203.70 L483.65,203.70 L483.90,203.70 L484.15,203.70 L484.40,203.70 L484.65,203.70 L484.90,203.70 L485.15,203.70 L485.40,203.72 L485.65,203.75 L485.90,203.83 L486.15,204.01 L486.40,204.33 L486.65,204.82 L486.90,205.44 L487.15,206.09 L487.40,206.69 L487.65,207.14 L487.90,207.43 L488.15,207.59 L488.40,207.66 L488.65,207.69 L488.90,207.70 L488.90,207.70 Z" fill="url(#hatch)"/>
<path d="M441.90,207.70 L441.90,207.70 L442.15,207.70 L442.40,207.68 L442.65,207.65 L442.90,207.57 L443.15,207.39 L443.40,207.07 L443.65,206.58 L443.90,205.96 L444.15,205.31 L444.40,204.71 L444.65,204.26 L444.90,203.97 L445.15,203.81 L445.40,203.74 L445.65,203.71 L445.90,203.70 L446.15,203.70 L446.40,203.70 L446.65,203.70 L446.90,203.70 L447.15,203.70 L447.40,203.70 L447.65,203.70 L447.90,203.70 L448.15,203.70 L448.40,203.70 L448.65,203.70 L448.90,203.70 L449.15,203.70 L449.40,203.70 L449.65,203.70 L449.90,203.70 L450.15,203.70 L450.40,203.70 L450.65,203.70 L450.90,203.70 L451.15,203.70 L451.40,203.70 L451.65,203.70 L451.90,203.70 L452.15,203.70 L452.40,203.70 L452.65,203.70 L452.90,203.70 L453.15,203.70 L453.40,203.70 L453.65,203.70 L453.90,203.70 L454.15,203.70 L454.40,203.70 L454.65,203.70 L454.90,203.70 L455.15,203.70 L455.40,203.70 L455.65,203.70 L455.90,203.70 L456.15,203.70 L456.40,203.70 L456.65,203.70 L456.90,203.70 L457.15,203.70 L457.40,203.70 L457.65,203.70 L457.90,203.70 L458.15,203.70 L458.40,203.70 L458.65,203.70 L458.90,203.70 L459.15,203.70 L459.40,203.70 L459.65,203.70 L459.90,203.70 L460.15,203.70 L460.40,203.70 L460.65,203.70 L460.90,203.70 L461.15,203.70 L461.40,203.70 L461.65,203.70 L461.90,203.70 L462.15,203.70 L462.40,203.70 L462.65,203.70 L462.90,203.70 L463.15,203.70 L463.40,203.70 L463.65,203.70 L463.90,203.70 L464.15,203.70 L464.40,203.70 L464.65,203.70 L464.90,203.70 L465.15,203.70 L465.40,203.70 L465.65,203.70 L465.90,203.70 L466.15,203.70 L466.40,203.70 L466.65,203.70 L466.90,203.70 L467.15,203.70 L467.40,203.70 L467.65,203.70 L467.90,203.70 L468.15,203.70 L468.40,203.70 L468.65,203.70 L468.90,203.70 L469.15,203.70 L469.40,203.70 L469.65,203.70 L469.90,203.70 L470.15,203.70 L470.40,203.70 L470.65,203.70 L470.90,203.70 L471.15,203.70 L471.40,203.70 L471.65,203.70 L471.90,203.70 L472.15,203.70 L472.40,203.70 L472.65,203.70 L472.90,203.70 L473.15,203.70 L473.40,203.70 L473.65,203.70 L473.90,203.70 L474.15,203.70 L474.40,203.70 L474.65,203.70 L474.90,203.70 L475.15,203.70 L475.40,203.70 L475.65,203.70 L475.90,203.70 L476.15,203.70 L476.40,203.70 L476.65,203.70 L476.90,203.70 L477.15,203.70 L477.40,203.70 L477.65,203.70 L477.90,203.70 L478.15,203.70 L478.40,203.70 L478.65,203.70 L478.90,203.70 L479.15,203.70 L479.40,203.70 L479.65,203.70 L479.90,203.70 L480.15,203.70 L480.40,203.70 L480.65,203.70 L480.90,203.70 L481.15,203.70 L481.40,203.70 L481.65,203.70 L481.90,203.70 L482.15,203.70 L482.40,203.70 L482.65,203.70 L482.90,203.70 L483.15,203.70 L483.40,203.70 L483.65,203.70 L483.90,203.70 L484.15,203.70 L484.40,203.70 L484.65,203.70 L484.90,203.70 L485.15,203.70 L485.40,203.72 L485.65,203.75 L485.90,203.83 L486.15,204.01 L486.40,204.33 L486.65,204.82 L486.90,205.44 L487.15,206.09 L487.40,206.69 L487.65,207.14 L487.90,207.43 L488.15,207.59 L488.40,207.66 L488.65,207.69 L488.90,207.70 L488.90,207.70 Z" fill="#ff0000" clip-path="url(#clipp3)"/>
<path d="M441.90,207.70 L441.90,207.70 L442.15,207.70 L442.40,207.68 L442.65,207.65 L442.90,207.57 L443.15,207.39 L443.40,207.07 L443.65,206.58 L443.90,205.96 L444.15,205.31 L444.40,204.71 L444.65,204.26 L444.90,203.97 L445.15,203.81 L445.40,203.74 L445.65,203.71 L445.90,203.70 L446.15,203.70 L446.40,203.70 L446.65,203.70 L446.90,203.70 L447.15,203.70 L447.40,203.70 L447.65,203.70 L447.90,203.70 L448.15,203.70 L448.40,203.70 L448.65,203.70 L448.90,203.70 L449.15,203.70 L449.40,203.70 L449.65,203.70 L449.90,203.70 L450.15,203.70 L450.40,203.70 L450.65,203.70 L450.90,203.70 L451.15,203.70 L451.40,203.70 L451.65,203.70 L451.90,203.70 L452.15,203.70 L452.40,203.70 L452.65,203.70 L452.90,203.70 L453.15,203.70 L453.40,203.70 L453.65,203.70 L453.90,203.70 L454.15,203.70 L454.40,203.70 L454.65,203.70 L454.90,203.70 L455.15,203.70 L455.40,203.70 L455.65,203.70 L455.90,203.70 L456.15,203.70 L456.40,203.70 L456.65,203.70 L456.90,203.70 L457.15,203.70 L457.40,203.70 L457.65,203.70 L457.90,203.70 L458.15,203.70 L458.40,203.70 L458.65,203.70 L458.90,203.70 L459.15,203.70 L459.40,203.70 L459.65,203.70 L459.90,203.70 L460.15,203.70 L460.40,203.70 L460.65,203.70 L460.90,203.70 L461.15,203.70 L461.40,203.70 L461.65,203.70 L461.90,203.70 L462.15,203.70 L462.40,203.70 L462.65,203.70 L462.90,203.70 L463.15,203.70 L463.40,203.70 L463.65,203.70 L463.90,203.70 L464.15,203.70 L464.40,203.70 L464.65,203.70 L464.90,203.70 L465.15,203.70 L465.40,203.70 L465.65,203.70 L465.90,203.70 L466.15,203.70 L466.40,203.70 L466.65,203.70 L466.90,203.70 L467.15,203.70 L467.40,203.70 L467.65,203.70 L467.90,203.70 L468.15,203.70 L468.40,203.70 L468.65,203.70 L468.90,203.70 L469.15,203.70 L469.40,203.70 L469.65,203.70 L469.90,203.70 L470.15,203.70 L470.40,203.70 L470.65,203.70 L470.90,203.70 L471.15,203.70 L471.40,203.70 L471.65,203.70 L471.90,203.70 L472.15,203.70 L472.40,203.70 L472.65,203.70 L472.90,203.70 L473.15,203.70 L473.40,203.70 L473.65,203.70 L473.90,203.70 L474.15,203.70 L474.40,203.70 L474.65,203.70 L474.90,203.70 L475.15,203.70 L475.40,203.70 L475.65,203.70 L475.90,203.70 L476.15,203.70 L476.40,203.70 L476.65,203.70 L476.90,203.70 L477.15,203.70 L477.40,203.70 L477.65,203.70 L477.90,203.70 L478.15,203.70 L478.40,203.70 L478.65,203.70 L478.90,203.70 L479.15,203.70 L479.40,203.70 L479.65,203.70 L479.90,203.70 L480.15,203.70 L480.40,203.70 L480.65,203.70 L480.90,203.70 L481.15,203.70 L481.40,203.70 L481.65,203.70 L481.90,203.70 L482.15,203.70 L482.40,203.70 L482.65,203.70 L482.90,203.70 L483.15,203.70 L483.40,203.70 L483.65,203.70 L483.90,203.70 L484.15,203.70 L484.40,203.70 L484.65,203.70 L484.90,203.70 L485.15,203.70 L485.40,203.72 L485.65,203.75 L485.90,203.83 L486.15,204.01 L486.40,204.33 L486.65,204.82 L486.90,205.44 L487.15,206.09 L487.40,206.69 L487.65,207.14 L487.90,207.43 L488.15,207.59 L488.40,207.66 L488.65,207.69 L488.90,207.70 L488.90,207.70 Z" fill="url(#hatchR)" clip-path="url(#clipp3)"/>
<path d="M441.90,207.70 L441.90,207.70 L442.15,207.70 L442.40,207.68 L442.65,207.65 L442.90,207.57 L443.15,207.39 L443.40,207.07 L443.65,206.58 L443.90,205.96 L444.15,205.31 L444.40,204.71 L444.65,204.26 L444.90,203.97 L445.15,203.81 L445.40,203.74 L445.65,203.71 L445.90,203.70 L446.15,203.70 L446.40,203.70 L446.65,203.70 L446.90,203.70 L447.15,203.70 L447.40,203.70 L447.65,203.70 L447.90,203.70 L448.15,203.70 L448.40,203.70 L448.65,203.70 L448.90,203.70 L449.15,203.70 L449.40,203.70 L449.65,203.70 L449.90,203.70 L450.15,203.70 L450.40,203.70 L450.65,203.70 L450.90,203.70 L451.15,203.70 L451.40,203.70 L451.65,203.70 L451.90,203.70 L452.15,203.70 L452.40,203.70 L452.65,203.70 L452.90,203.70 L453.15,203.70 L453.40,203.70 L453.65,203.70 L453.90,203.70 L454.15,203.70 L454.40,203.70 L454.65,203.70 L454.90,203.70 L455.15,203.70 L455.40,203.70 L455.65,203.70 L455.90,203.70 L456.15,203.70 L456.40,203.70 L456.65,203.70 L456.90,203.70 L457.15,203.70 L457.40,203.70 L457.65,203.70 L457.90,203.70 L458.15,203.70 L458.40,203.70 L458.65,203.70 L458.90,203.70 L459.15,203.70 L459.40,203.70 L459.65,203.70 L459.90,203.70 L460.15,203.70 L460.40,203.70 L460.65,203.70 L460.90,203.70 L461.15,203.70 L461.40,203.70 L461.65,203.70 L461.90,203.70 L462.15,203.70 L462.40,203.70 L462.65,203.70 L462.90,203.70 L463.15,203.70 L463.40,203.70 L463.65,203.70 L463.90,203.70 L464.15,203.70 L464.40,203.70 L464.65,203.70 L464.90,203.70 L465.15,203.70 L465.40,203.70 L465.65,203.70 L465.90,203.70 L466.15,203.70 L466.40,203.70 L466.65,203.70 L466.90,203.70 L467.15,203.70 L467.40,203.70 L467.65,203.70 L467.90,203.70 L468.15,203.70 L468.40,203.70 L468.65,203.70 L468.90,203.70 L469.15,203.70 L469.40,203.70 L469.65,203.70 L469.90,203.70 L470.15,203.70 L470.40,203.70 L470.65,203.70 L470.90,203.70 L471.15,203.70 L471.40,203.70 L471.65,203.70 L471.90,203.70 L472.15,203.70 L472.40,203.70 L472.65,203.70 L472.90,203.70 L473.15,203.70 L473.40,203.70 L473.65,203.70 L473.90,203.70 L474.15,203.70 L474.40,203.70 L474.65,203.70 L474.90,203.70 L475.15,203.70 L475.40,203.70 L475.65,203.70 L475.90,203.70 L476.15,203.70 L476.40,203.70 L476.65,203.70 L476.90,203.70 L477.15,203.70 L477.40,203.70 L477.65,203.70 L477.90,203.70 L478.15,203.70 L478.40,203.70 L478.65,203.70 L478.90,203.70 L479.15,203.70 L479.40,203.70 L479.65,203.70 L479.90,203.70 L480.15,203.70 L480.40,203.70 L480.65,203.70 L480.90,203.70 L481.15,203.70 L481.40,203.70 L481.65,203.70 L481.90,203.70 L482.15,203.70 L482.40,203.70 L482.65,203.70 L482.90,203.70 L483.15,203.70 L483.40,203.70 L483.65,203.70 L483.90,203.70 L484.15,203.70 L484.40,203.70 L484.65,203.70 L484.90,203.70 L485.15,203.70 L485.40,203.72 L485.65,203.75 L485.90,203.83 L486.15,204.01 L486.40,204.33 L486.65,204.82 L486.90,205.44 L487.15,206.09 L487.40,206.69 L487.65,207.14 L487.90,207.43 L488.15,207.59 L488.40,207.66 L488.65,207.69 L488.90,207.70 L488.90,207.70 Z" fill="none" stroke="#3a0a0a" stroke-width="0.7"/>
<path d="M421.12,207.70 L421.38,207.70 L421.62,207.70 L421.88,207.70 L422.12,207.70 L422.38,207.70 L422.62,207.70 L422.88,207.70 L423.12,207.70 L423.38,207.69 L423.62,207.69 L423.88,207.69 L424.12,207.69 L424.38,207.69 L424.62,207.68 L424.88,207.68 L425.12,207.67 L425.38,207.67 L425.62,207.66 L425.88,207.65 L426.12,207.64 L426.38,207.62 L426.62,207.60 L426.88,207.58 L427.12,207.56 L427.38,207.53 L427.62,207.49 L427.88,207.44 L428.12,207.39 L428.38,207.33 L428.62,207.25 L428.88,207.17 L429.12,207.06 L429.38,206.94 L429.62,206.80 L429.88,206.64 L430.12,206.44 L430.38,206.22 L430.62,205.97 L430.88,205.67 L431.12,205.34 L431.38,204.95 L431.62,204.51 L431.88,204.01 L432.12,203.45 L432.38,202.81 L432.62,202.09 L432.88,201.29 L433.12,200.39 L433.38,199.39 L433.62,198.27 L433.88,197.04 L434.12,195.68 L434.38,194.19 L434.62,192.56 L434.88,190.77 L435.12,188.83 L435.38,186.72 L435.62,184.44 L435.88,181.99 L436.12,179.37 L436.38,176.56 L436.62,173.57 L436.88,170.40 L437.12,167.05 L437.38,163.52 L437.62,159.82 L437.88,155.96 L438.12,151.95 L438.38,147.80 L438.62,143.52 L438.88,139.12 L439.12,134.64 L439.38,130.08 L439.62,125.46 L439.88,120.82 L440.12,116.18 L440.38,111.56 L440.62,107.00 L440.88,102.51 L441.12,98.14 L441.38,93.90 L441.62,89.84 L441.88,85.98 L442.12,82.34 L442.38,78.95 L442.62,75.82 L442.88,72.96 L443.12,70.33 L443.38,67.91 L443.62,65.70 L443.88,63.73 L444.12,62.10 L444.38,60.93 L444.62,60.30 L444.88,60.23 L445.12,60.72 L445.38,61.69 L445.62,63.10 L445.88,64.90 L446.12,67.08 L446.38,69.61 L446.62,72.46 L446.88,75.62 L447.12,79.05 L447.38,82.73 L447.62,86.64 L447.88,90.73 L448.12,95.00 L448.38,99.40 L448.62,103.90 L448.88,108.48 L449.12,113.10 L449.38,117.74 L449.62,122.38 L449.88,126.98 L450.12,131.53 L450.38,136.00 L450.62,140.37 L450.88,144.62 L451.12,148.75 L451.38,152.73 L451.62,156.55 L451.88,160.21 L452.12,163.70 L452.38,167.01 L452.62,170.15 L452.88,173.10 L453.12,175.86 L453.38,178.45 L453.62,180.86 L453.88,183.10 L454.12,185.16 L454.38,187.07 L454.62,188.82 L454.88,190.41 L455.12,191.87 L455.38,193.19 L455.62,194.39 L455.88,195.47 L456.12,196.44 L456.38,197.30 L456.62,198.08 L456.88,198.76 L457.12,199.37 L457.38,199.90 L457.62,200.36 L457.88,200.77 L458.12,201.12 L458.38,201.42 L458.62,201.68 L458.88,201.90 L459.12,202.08 L459.38,202.23 L459.62,202.35 L459.88,202.45 L460.12,202.52 L460.38,202.57 L460.62,202.61 L460.88,202.62 L461.12,202.63 L461.38,202.62 L461.62,202.59 L461.88,202.56 L462.12,202.51 L462.38,202.45 L462.62,202.39 L462.88,202.31 L463.12,202.23 L463.38,202.13 L463.62,202.03 L463.88,201.92 L464.12,201.80 L464.38,201.68 L464.62,201.54 L464.88,201.40 L465.12,201.24 L465.38,201.08 L465.62,200.91 L465.88,200.73 L466.12,200.53 L466.38,200.33 L466.62,200.12 L466.88,199.90 L467.12,199.66 L467.38,199.42 L467.62,199.16 L467.88,198.89 L468.12,198.61 L468.38,198.32 L468.62,198.01 L468.88,197.69 L469.12,197.36 L469.38,197.02 L469.62,196.66 L469.88,196.29 L470.12,195.90 L470.38,195.50 L470.62,195.09 L470.88,194.67 L471.12,194.23 L471.38,193.77 L471.62,193.30 L471.88,192.82 L472.12,192.33 L472.38,191.82 L472.62,191.30 L472.88,190.77 L473.12,190.22 L473.38,189.66 L473.62,189.09 L473.88,188.51 L474.12,187.92 L474.38,187.32 L474.62,186.70 L474.88,186.08 L475.12,185.45 L475.38,184.81 L475.62,184.16 L475.88,183.51 L476.12,182.85 L476.38,182.19 L476.62,181.52 L476.88,180.85 L477.12,180.18 L477.38,179.51 L477.62,178.83 L477.88,178.16 L478.12,177.49 L478.38,176.82 L478.62,176.16 L478.88,175.50 L479.12,174.85 L479.38,174.20 L479.62,173.57 L479.88,172.94 L480.12,172.33 L480.38,171.73 L480.62,171.14 L480.88,170.57 L481.12,170.01 L481.38,169.47 L481.62,168.95 L481.88,168.45 L482.12,167.97 L482.38,167.51 L482.62,167.07 L482.88,166.65 L483.12,166.26 L483.38,165.90 L483.62,165.56 L483.88,165.24 L484.12,164.96 L484.38,164.70 L484.62,164.47 L484.88,164.27 L485.12,164.10 L485.38,163.97 L485.62,163.89 L485.88,163.89 L486.12,164.01 L486.38,164.30 L486.62,164.78 L486.88,165.43 L487.12,166.16 L487.38,166.87 L487.62,167.47 L487.88,167.94 L488.12,168.31 L488.38,168.61 L488.62,168.89 L488.88,169.18 L489.12,169.49 L489.38,169.83 L489.62,170.19 L489.88,170.57 L490.12,170.98 L490.38,171.42 L490.62,171.87 L490.88,172.35 L491.12,172.85 L491.38,173.37 L491.62,173.90 L491.88,174.46 L492.12,175.03 L492.38,175.61 L492.62,176.21 L492.88,176.82 L493.12,177.44 L493.38,178.08 L493.62,178.72 L493.88,179.37 L494.12,180.03 L494.38,180.69 L494.62,181.35 L494.88,182.03 L495.12,182.70 L495.38,183.37 L495.62,184.05 L495.88,184.72 L496.12,185.39 L496.38,186.06 L496.62,186.72 L496.88,187.38 L497.12,188.03 L497.38,188.68 L497.62,189.32 L497.88,189.96 L498.12,190.58 L498.38,191.19 L498.62,191.80 L498.88,192.39 L499.12,192.98 L499.38,193.55 L499.62,194.11 L499.88,194.66 L500.12,195.20 L500.38,195.72 L500.62,196.23 L500.88,196.73 L501.12,197.21 L501.38,197.68 L501.62,198.14 L501.88,198.58 L502.12,199.01 L502.38,199.42 L502.62,199.82 L502.88,200.21 L503.12,200.59 L503.38,200.95 L503.62,201.29 L503.88,201.63 L504.12,201.95 L504.38,202.26 L504.62,202.55 L504.88,202.84 L505.12,203.11 L505.38,203.37 L505.62,203.61 L505.88,203.85 L506.12,204.08 L506.38,204.29 L506.62,204.50 L506.88,204.69 L507.12,204.88 L507.38,205.05 L507.62,205.22 L507.88,205.38 L508.12,205.53 L508.38,205.67 L508.62,205.80 L508.88,205.93 L509.12,206.05 L509.38,206.16 L509.62,206.27 L509.88,206.37 L510.12,206.46 L510.38,206.55 L510.62,206.63 L510.88,206.71 L511.12,206.78 L511.38,206.85 L511.62,206.91 L511.88,206.97 L512.12,207.03 L512.38,207.08 L512.62,207.13 L512.88,207.17 L513.12,207.21 L513.38,207.25 L513.62,207.29 L513.88,207.32 L514.12,207.35 L514.38,207.38 L514.62,207.41 L514.88,207.43 L515.12,207.45 L515.38,207.48 L515.62,207.49 L515.88,207.51 L516.12,207.53 L516.38,207.54 L516.62,207.56 L516.88,207.57 L517.12,207.58 L517.38,207.59" fill="none" stroke="#000" stroke-width="0.9"/>
<path d="M421.12,207.70 L421.81,207.02 L422.50,205.90 L423.19,207.70 L423.88,207.70 L424.56,207.70 L425.25,206.81 L425.94,205.66 L426.62,207.70 L427.31,207.70 L428.00,206.14 L428.69,206.38 L429.38,204.17 L430.06,204.64 L430.75,206.07 L431.44,205.65 L432.12,199.27 L432.81,202.74 L433.50,201.86 L434.19,199.22 L434.88,190.09 L435.56,183.84 L436.25,181.23 L436.94,170.24 L437.62,156.57 L438.31,139.69 L439.00,122.06 L439.69,121.00 L440.38,136.40 L441.06,86.62 L441.75,114.68 L442.44,81.51 L443.12,49.33 L443.81,64.15 L444.50,76.83 L445.19,56.45 L445.88,38.56 L446.56,72.70 L447.25,64.50 L447.94,116.35 L448.62,108.96 L449.31,105.68 L450.00,130.68 L450.69,136.25 L451.38,151.41 L452.06,174.46 L452.75,147.64 L453.44,186.56 L454.12,178.06 L454.81,193.69 L455.50,189.40 L456.19,196.65 L456.88,193.85 L457.56,202.91 L458.25,196.91 L458.94,202.46 L459.62,198.00 L460.31,200.12 L461.00,202.08 L461.69,204.66 L462.38,199.42 L463.06,200.36 L463.75,197.56 L464.44,203.24 L465.12,198.81 L465.81,198.47 L466.50,198.89 L467.19,198.58 L467.88,197.96 L468.56,201.29 L469.25,200.62 L469.94,198.51 L470.62,191.47 L471.31,188.18 L472.00,186.66 L472.69,185.02 L473.38,183.97 L474.06,182.73 L474.75,184.93 L475.44,178.26 L476.12,175.38 L476.81,183.94 L477.50,185.56 L478.19,168.96 L478.88,173.11 L479.56,164.79 L480.25,163.03 L480.94,180.55 L481.62,159.25 L482.31,137.62 L483.00,164.50 L483.69,157.05 L484.38,163.26 L485.06,174.20 L485.75,165.16 L486.44,160.15 L487.12,156.01 L487.81,160.12 L488.50,168.11 L489.19,159.97 L489.88,178.56 L490.56,163.56 L491.25,164.07 L491.94,177.49 L492.62,184.88 L493.31,186.16 L494.00,177.53 L494.69,176.87 L495.38,175.98 L496.06,191.64 L496.75,187.04 L497.44,176.84 L498.12,191.70 L498.81,196.91 L499.50,188.65 L500.19,185.33 L500.88,191.47 L501.56,201.24 L502.25,201.29 L502.94,199.27 L503.62,196.77 L504.31,199.68 L505.00,202.55 L505.69,199.53 L506.38,204.55 L507.06,200.87 L507.75,206.70 L508.44,206.86 L509.12,204.45 L509.81,203.48 L510.50,205.40 L511.19,206.25 L511.88,207.70 L512.56,207.70 L513.25,207.70 L513.94,207.70 L514.62,206.35 L515.31,207.70 L516.00,206.10 L516.69,207.41 L517.38,207.70" fill="none" stroke="#383838" stroke-width="0.85"/>
<path d="M400.5,25.6 L400.5,212.2 M396,207.7 L521,207.7" stroke="#2a2a2a" stroke-width="0.9" fill="none"/>
<path d="M396.0,207.70 L400.5,207.70 M398.3,200.36 L400.5,200.36 M398.3,193.02 L400.5,193.02 M398.3,185.68 L400.5,185.68 M398.3,178.34 L400.5,178.34 M396.0,171.00 L400.5,171.00 M398.3,163.66 L400.5,163.66 M398.3,156.32 L400.5,156.32 M398.3,148.98 L400.5,148.98 M398.3,141.64 L400.5,141.64 M396.0,134.30 L400.5,134.30 M398.3,126.96 L400.5,126.96 M398.3,119.62 L400.5,119.62 M398.3,112.28 L400.5,112.28 M398.3,104.94 L400.5,104.94 M396.0,97.60 L400.5,97.60 M398.3,90.26 L400.5,90.26 M398.3,82.92 L400.5,82.92 M398.3,75.58 L400.5,75.58 M398.3,68.24 L400.5,68.24 M396.0,60.90 L400.5,60.90 M398.3,53.56 L400.5,53.56 M398.3,46.22 L400.5,46.22 M398.3,38.88 L400.5,38.88 M398.3,31.54 L400.5,31.54 M400.50,207.7 L400.50,212.2 M406.00,207.7 L406.00,209.89999999999998 M411.50,207.7 L411.50,209.89999999999998 M417.00,207.7 L417.00,209.89999999999998 M422.50,207.7 L422.50,209.89999999999998 M428.00,207.7 L428.00,212.2 M433.50,207.7 L433.50,209.89999999999998 M439.00,207.7 L439.00,209.89999999999998 M444.50,207.7 L444.50,209.89999999999998 M450.00,207.7 L450.00,209.89999999999998 M455.50,207.7 L455.50,212.2 M461.00,207.7 L461.00,209.89999999999998 M466.50,207.7 L466.50,209.89999999999998 M472.00,207.7 L472.00,209.89999999999998 M477.50,207.7 L477.50,209.89999999999998 M483.00,207.7 L483.00,212.2 M488.50,207.7 L488.50,209.89999999999998 M494.00,207.7 L494.00,209.89999999999998 M499.50,207.7 L499.50,209.89999999999998 M505.00,207.7 L505.00,209.89999999999998 M510.50,207.7 L510.50,212.2 M516.00,207.7 L516.00,209.89999999999998" stroke="#1a1a1a" stroke-width="0.8" fill="none"/>
<text transform="translate(392.00,207.70) rotate(-90)" font-size="6.0" fill="#1a1a1a" stroke="#1a1a1a" stroke-width="0.12" text-anchor="middle">0</text>
<text transform="translate(392.00,171.00) rotate(-90)" font-size="6.0" fill="#1a1a1a" stroke="#1a1a1a" stroke-width="0.12" text-anchor="middle" textLength="7.0" lengthAdjust="spacingAndGlyphs">10</text>
<text transform="translate(392.00,134.30) rotate(-90)" font-size="6.0" fill="#1a1a1a" stroke="#1a1a1a" stroke-width="0.12" text-anchor="middle" textLength="7.0" lengthAdjust="spacingAndGlyphs">20</text>
<text transform="translate(392.00,97.60) rotate(-90)" font-size="6.0" fill="#1a1a1a" stroke="#1a1a1a" stroke-width="0.12" text-anchor="middle" textLength="7.0" lengthAdjust="spacingAndGlyphs">30</text>
<text transform="translate(392.00,60.90) rotate(-90)" font-size="6.0" fill="#1a1a1a" stroke="#1a1a1a" stroke-width="0.12" text-anchor="middle" textLength="7.0" lengthAdjust="spacingAndGlyphs">40</text>
<text x="400.50" y="221.50" font-size="6.0" fill="#1a1a1a" stroke="#1a1a1a" stroke-width="0.12" text-anchor="middle">0</text>
<text x="428.00" y="221.50" font-size="6.0" fill="#1a1a1a" stroke="#1a1a1a" stroke-width="0.12" text-anchor="middle">40</text>
<text x="455.50" y="221.50" font-size="6.0" fill="#1a1a1a" stroke="#1a1a1a" stroke-width="0.12" text-anchor="middle">80</text>
<text x="483.00" y="221.50" font-size="6.0" fill="#1a1a1a" stroke="#1a1a1a" stroke-width="0.12" text-anchor="middle">120</text>
<text x="510.50" y="221.50" font-size="6.0" fill="#1a1a1a" stroke="#1a1a1a" stroke-width="0.12" text-anchor="middle">160</text>
<text x="13.60" y="34.90" font-size="18.99" font-weight="bold" fill="#000" text-anchor="start" textLength="17.40" lengthAdjust="spacingAndGlyphs" >A)</text>
<text x="111.00" y="19.70" font-size="14.78" font-weight="bold" fill="#000" text-anchor="start" textLength="47.40" lengthAdjust="spacingAndGlyphs" >Control</text>
<text x="254.50" y="20.10" font-size="14.35" font-weight="bold" fill="#000" text-anchor="start" textLength="111.70" lengthAdjust="spacingAndGlyphs" >Compound 12 (IC</text>
<text x="366.90" y="23.70" font-size="9.13" font-weight="bold" fill="#000" text-anchor="start" textLength="9.80" lengthAdjust="spacingAndGlyphs" >50</text>
<text x="377.80" y="20.10" font-size="14.35" font-weight="bold" fill="#000" text-anchor="start" textLength="3.40" lengthAdjust="spacingAndGlyphs" >)</text>
<text x="414.20" y="20.10" font-size="14.35" font-weight="bold" fill="#000" text-anchor="start" textLength="111.10" lengthAdjust="spacingAndGlyphs" >Compound 12 (IC</text>
<text x="526.20" y="23.70" font-size="9.13" font-weight="bold" fill="#000" text-anchor="start" textLength="9.90" lengthAdjust="spacingAndGlyphs" >80</text>
<text x="537.60" y="20.10" font-size="14.35" font-weight="bold" fill="#000" text-anchor="start" textLength="3.40" lengthAdjust="spacingAndGlyphs" >)</text>
<text x="110.20" y="236.50" font-size="12.90" font-weight="normal" fill="#000" text-anchor="start" textLength="115.20" lengthAdjust="spacingAndGlyphs"  stroke="#000" stroke-width="0.15">Propidium Iodide (PI)</text>
<text x="259.40" y="238.60" font-size="12.90" font-weight="normal" fill="#000" text-anchor="start" textLength="114.80" lengthAdjust="spacingAndGlyphs"  stroke="#000" stroke-width="0.15">Propidium Iodide (PI)</text>
<text x="413.20" y="236.50" font-size="12.90" font-weight="normal" fill="#000" text-anchor="start" textLength="114.80" lengthAdjust="spacingAndGlyphs"  stroke="#000" stroke-width="0.15">Propidium Iodide (PI)</text>
<text transform="translate(74.70,147.00) rotate(-90)" font-size="12.61" font-weight="normal" fill="#000" text-anchor="start" textLength="67.30" lengthAdjust="spacingAndGlyphs"  stroke="#000" stroke-width="0.15">Cell number</text>
<text transform="translate(225.20,146.00) rotate(-90)" font-size="12.61" font-weight="normal" fill="#000" text-anchor="start" textLength="66.00" lengthAdjust="spacingAndGlyphs"  stroke="#000" stroke-width="0.15">Cell number</text>
<text transform="translate(377.00,146.00) rotate(-90)" font-size="12.61" font-weight="normal" fill="#000" text-anchor="start" textLength="65.60" lengthAdjust="spacingAndGlyphs"  stroke="#000" stroke-width="0.15">Cell number</text>
<line x1="139.3" x2="458.7" y1="456.78" y2="456.78" stroke="#d9d9d9" stroke-width="1"/>
<line x1="139.3" x2="458.7" y1="412.16" y2="412.16" stroke="#d9d9d9" stroke-width="1"/>
<line x1="139.3" x2="458.7" y1="367.54" y2="367.54" stroke="#d9d9d9" stroke-width="1"/>
<line x1="139.3" x2="458.7" y1="322.92" y2="322.92" stroke="#d9d9d9" stroke-width="1"/>
<line x1="139.3" x2="458.7" y1="278.30" y2="278.30" stroke="#d9d9d9" stroke-width="1"/>
<path d="M139.3,501.4 L458.7,501.4 M139.3,501.4 L139.3,553 M245.8,501.4 L245.8,553 M458.5,501.4 L458.5,553" stroke="#d0d0d0" stroke-width="1" fill="none"/>
<text x="125.80" y="505.60" font-size="12.46" font-weight="normal" fill="#000" text-anchor="end" textLength="15.80" lengthAdjust="spacingAndGlyphs"  stroke="#000" stroke-width="0.15">0%</text>
<text x="125.80" y="460.98" font-size="12.46" font-weight="normal" fill="#000" text-anchor="end" textLength="22.20" lengthAdjust="spacingAndGlyphs"  stroke="#000" stroke-width="0.15">20%</text>
<text x="125.80" y="416.36" font-size="12.46" font-weight="normal" fill="#000" text-anchor="end" textLength="22.20" lengthAdjust="spacingAndGlyphs"  stroke="#000" stroke-width="0.15">40%</text>
<text x="125.80" y="371.74" font-size="12.46" font-weight="normal" fill="#000" text-anchor="end" textLength="22.00" lengthAdjust="spacingAndGlyphs"  stroke="#000" stroke-width="0.15">60%</text>
<text x="125.80" y="327.12" font-size="12.46" font-weight="normal" fill="#000" text-anchor="end" textLength="22.20" lengthAdjust="spacingAndGlyphs"  stroke="#000" stroke-width="0.15">80%</text>
<text x="125.80" y="282.50" font-size="12.46" font-weight="normal" fill="#000" text-anchor="end" textLength="29.20" lengthAdjust="spacingAndGlyphs"  stroke="#000" stroke-width="0.15">100%</text>
<text transform="translate(89.10,510.80) rotate(-90)" font-size="13.33" font-weight="normal" fill="#000" text-anchor="start" textLength="239.00" lengthAdjust="spacingAndGlyphs"  stroke="#000" stroke-width="0.15">Percentage of HepG2 cell population (%)</text>
<rect x="170.60" y="369.80" width="43.10" height="131.00" fill="url(#vb)"/>
<rect x="170.60" y="369.80" width="43.10" height="131.00" fill="url(#hb)"/>
<path d="M170.60,369.80 L213.70,369.80 L210.70,372.80 L173.60,372.80 Z" fill="#40c4ff" opacity="0.85"/>
<path d="M170.60,500.80 L213.70,500.80 L212.20,499.30 L172.10,499.30 Z" fill="#053f78" opacity="0.7"/>
<rect x="170.60" y="307.60" width="43.10" height="62.20" fill="url(#vr)"/>
<rect x="170.60" y="307.60" width="43.10" height="62.20" fill="url(#hr)"/>
<path d="M170.60,307.60 L213.70,307.60 L210.70,310.60 L173.60,310.60 Z" fill="#ff7a6c" opacity="0.85"/>
<path d="M170.60,369.80 L213.70,369.80 L212.20,368.30 L172.10,368.30 Z" fill="#8e1a17" opacity="0.7"/>
<rect x="170.60" y="278.20" width="43.10" height="29.40" fill="url(#vg)"/>
<rect x="170.60" y="278.20" width="43.10" height="29.40" fill="url(#hg)"/>
<path d="M170.60,278.20 L213.70,278.20 L210.70,281.20 L173.60,281.20 Z" fill="#c4f46a" opacity="0.85"/>
<path d="M170.60,307.60 L213.70,307.60 L212.20,306.10 L172.10,306.10 Z" fill="#4f7a1a" opacity="0.7"/>
<path d="M192.20,368.10 L192.20,371.90 M189.60,368.10 L194.80,368.10 M189.60,371.90 L194.80,371.90" stroke="#111" stroke-width="1" fill="none"/>
<path d="M192.20,304.50 L192.20,310.80 M189.60,304.50 L194.80,304.50 M189.60,310.80 L194.80,310.80" stroke="#111" stroke-width="1" fill="none"/>
<path d="M192.20,275.70 L192.20,280.90 M189.60,275.70 L194.80,275.70 M189.60,280.90 L194.80,280.90" stroke="#111" stroke-width="1" fill="none"/>
<rect x="277.30" y="368.00" width="43.10" height="132.80" fill="url(#vb)"/>
<rect x="277.30" y="368.00" width="43.10" height="132.80" fill="url(#hb)"/>
<path d="M277.30,368.00 L320.40,368.00 L317.40,371.00 L280.30,371.00 Z" fill="#40c4ff" opacity="0.85"/>
<path d="M277.30,500.80 L320.40,500.80 L318.90,499.30 L278.80,499.30 Z" fill="#053f78" opacity="0.7"/>
<rect x="277.30" y="294.90" width="43.10" height="73.10" fill="url(#vr)"/>
<rect x="277.30" y="294.90" width="43.10" height="73.10" fill="url(#hr)"/>
<path d="M277.30,294.90 L320.40,294.90 L317.40,297.90 L280.30,297.90 Z" fill="#ff7a6c" opacity="0.85"/>
<path d="M277.30,368.00 L320.40,368.00 L318.90,366.50 L278.80,366.50 Z" fill="#8e1a17" opacity="0.7"/>
<rect x="277.30" y="278.60" width="43.10" height="16.30" fill="url(#vg)"/>
<rect x="277.30" y="278.60" width="43.10" height="16.30" fill="url(#hg)"/>
<path d="M277.30,278.60 L320.40,278.60 L317.40,281.60 L280.30,281.60 Z" fill="#c4f46a" opacity="0.85"/>
<path d="M277.30,294.90 L320.40,294.90 L318.90,293.40 L278.80,293.40 Z" fill="#4f7a1a" opacity="0.7"/>
<path d="M298.70,363.30 L298.70,371.60 M296.10,363.30 L301.30,363.30 M296.10,371.60 L301.30,371.60" stroke="#111" stroke-width="1" fill="none"/>
<path d="M298.70,291.30 L298.70,298.70 M296.10,291.30 L301.30,291.30 M296.10,298.70 L301.30,298.70" stroke="#111" stroke-width="1" fill="none"/>
<path d="M298.70,276.20 L298.70,281.30 M296.10,276.20 L301.30,276.20 M296.10,281.30 L301.30,281.30" stroke="#111" stroke-width="1" fill="none"/>
<rect x="383.80" y="372.20" width="43.10" height="128.60" fill="url(#vb)"/>
<rect x="383.80" y="372.20" width="43.10" height="128.60" fill="url(#hb)"/>
<path d="M383.80,372.20 L426.90,372.20 L423.90,375.20 L386.80,375.20 Z" fill="#40c4ff" opacity="0.85"/>
<path d="M383.80,500.80 L426.90,500.80 L425.40,499.30 L385.30,499.30 Z" fill="#053f78" opacity="0.7"/>
<rect x="383.80" y="344.80" width="43.10" height="27.40" fill="url(#vr)"/>
<rect x="383.80" y="344.80" width="43.10" height="27.40" fill="url(#hr)"/>
<path d="M383.80,344.80 L426.90,344.80 L423.90,347.80 L386.80,347.80 Z" fill="#ff7a6c" opacity="0.85"/>
<path d="M383.80,372.20 L426.90,372.20 L425.40,370.70 L385.30,370.70 Z" fill="#8e1a17" opacity="0.7"/>
<rect x="383.80" y="278.40" width="43.10" height="66.40" fill="url(#vg)"/>
<rect x="383.80" y="278.40" width="43.10" height="66.40" fill="url(#hg)"/>
<path d="M383.80,278.40 L426.90,278.40 L423.90,281.40 L386.80,281.40 Z" fill="#c4f46a" opacity="0.85"/>
<path d="M383.80,344.80 L426.90,344.80 L425.40,343.30 L385.30,343.30 Z" fill="#4f7a1a" opacity="0.7"/>
<path d="M405.40,369.00 L405.40,375.70 M402.80,369.00 L408.00,369.00 M402.80,375.70 L408.00,375.70" stroke="#111" stroke-width="1" fill="none"/>
<path d="M405.40,336.30 L405.40,353.70 M402.80,336.30 L408.00,336.30 M402.80,353.70 L408.00,353.70" stroke="#111" stroke-width="1" fill="none"/>
<path d="M405.40,273.30 L405.40,283.80 M402.80,273.30 L408.00,273.30 M402.80,283.80 L408.00,283.80" stroke="#111" stroke-width="1" fill="none"/>
<text x="172.20" y="548.70" font-size="12.03" font-weight="normal" fill="#000" text-anchor="start" textLength="39.80" lengthAdjust="spacingAndGlyphs"  stroke="#000" stroke-width="0.15">Control</text>
<text x="287.30" y="523.00" font-size="12.17" font-weight="normal" fill="#000" text-anchor="start" textLength="23.20" lengthAdjust="spacingAndGlyphs"  stroke="#000" stroke-width="0.15">IC50</text>
<text x="393.80" y="523.00" font-size="12.17" font-weight="normal" fill="#000" text-anchor="start" textLength="23.40" lengthAdjust="spacingAndGlyphs"  stroke="#000" stroke-width="0.15">IC80</text>
<text x="326.30" y="548.70" font-size="12.17" font-weight="normal" fill="#000" text-anchor="start" textLength="58.60" lengthAdjust="spacingAndGlyphs"  stroke="#000" stroke-width="0.15">Product 12</text>
<text x="19.00" y="292.70" font-size="18.12" font-weight="bold" fill="#000" text-anchor="start" textLength="16.00" lengthAdjust="spacingAndGlyphs" >B)</text>
<rect x="205.0" y="567.5" width="7.7" height="7.3" fill="url(#vb)" stroke="#053f78" stroke-width="0.7"/>
<path d="M205.6,568.1 L212.1,568.1 L208.85,571.0 Z" fill="#40c4ff" opacity="0.8"/>
<rect x="261.8" y="567.5" width="7.7" height="7.3" fill="url(#vr)" stroke="#8e1a17" stroke-width="0.7"/>
<path d="M262.40000000000003,568.1 L268.90000000000003,568.1 L265.65000000000003,571.0 Z" fill="#ff7a6c" opacity="0.8"/>
<rect x="289.0" y="567.5" width="7.7" height="7.3" fill="url(#vg)" stroke="#4f7a1a" stroke-width="0.7"/>
<path d="M289.6,568.1 L296.1,568.1 L292.85,571.0 Z" fill="#c4f46a" opacity="0.8"/>
<text x="216.00" y="574.80" font-size="12.03" font-weight="normal" fill="#000" text-anchor="start" textLength="34.00" lengthAdjust="spacingAndGlyphs"  stroke="#000" stroke-width="0.15">G0/G1</text>
<text x="272.70" y="574.80" font-size="12.03" font-weight="normal" fill="#000" text-anchor="start" textLength="6.10" lengthAdjust="spacingAndGlyphs"  stroke="#000" stroke-width="0.15">S</text>
<text x="300.00" y="574.80" font-size="12.03" font-weight="normal" fill="#000" text-anchor="start" textLength="31.20" lengthAdjust="spacingAndGlyphs"  stroke="#000" stroke-width="0.15">G2/M</text>
</svg>
</body></html>
